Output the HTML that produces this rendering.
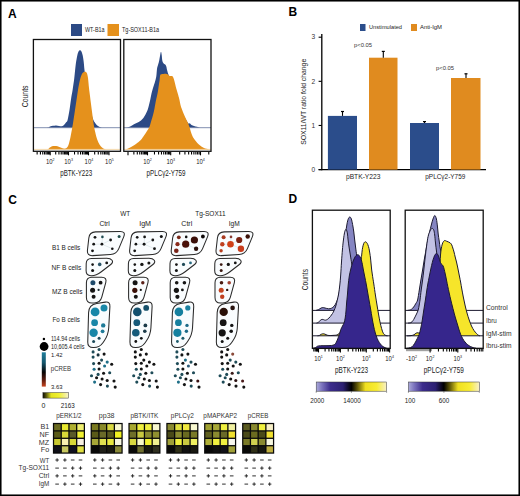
<!DOCTYPE html><html><head><meta charset="utf-8"><title>Figure</title><style>html,body{margin:0;padding:0;background:#fff;}svg{display:block;font-family:"Liberation Sans", sans-serif;}</style></head><body>
<svg width="520" height="496" viewBox="0 0 520 496">
<rect x="0" y="0" width="520" height="496" fill="#fff" stroke="none" stroke-width="1"/>
<text x="8" y="17.5" font-size="12" text-anchor="start" font-weight="bold" fill="#000">A</text>
<rect x="71" y="24" width="11" height="12" fill="#2c4a85" stroke="none" stroke-width="1"/>
<text x="85" y="32.3" font-size="6.3" text-anchor="start" font-weight="normal" fill="#222" textLength="19.5" lengthAdjust="spacingAndGlyphs">WT-B1a</text>
<rect x="107.5" y="24" width="11.5" height="12" fill="#e5911c" stroke="none" stroke-width="1"/>
<text x="122" y="32.3" font-size="6.3" text-anchor="start" font-weight="normal" fill="#222" textLength="37" lengthAdjust="spacingAndGlyphs">Tg-SOX11-B1a</text>
<path d="M33.4,127.7 C35.67,127.7 44.23,127.88 47,127.7 C49.77,127.52 49,126.92 50,126.6 C51,126.28 52,126 53,125.8 C54,125.6 55,125.37 56,125.4 C57,125.43 58,125.87 59,126 C60,126.13 61.17,126.37 62,126.2 C62.83,126.03 63.33,125.62 64,125 C64.67,124.38 65.4,123.33 66,122.5 C66.6,121.67 67.02,122.08 67.6,120 C68.18,117.92 68.9,113.67 69.5,110 C70.1,106.33 70.68,101.33 71.2,98 C71.72,94.67 72.08,93.33 72.6,90 C73.12,86.67 73.77,82.33 74.3,78 C74.83,73.67 75.28,67.83 75.8,64 C76.32,60.17 76.9,57.17 77.4,55 C77.9,52.83 78.37,51.78 78.8,51 C79.23,50.22 79.58,50.27 80,50.3 C80.42,50.33 80.87,50.42 81.3,51.2 C81.73,51.98 82.22,53.37 82.6,55 C82.98,56.63 83.28,58.5 83.6,61 C83.92,63.5 84.1,66.33 84.5,70 C84.9,73.67 85.42,78.5 86,83 C86.58,87.5 87.25,92.5 88,97 C88.75,101.5 89.67,106.33 90.5,110 C91.33,113.67 92.17,116.75 93,119 C93.83,121.25 94.67,122.33 95.5,123.5 C96.33,124.67 97.03,125.33 98,126 C98.97,126.67 100.47,127.22 101.3,127.5 C102.13,127.78 99.8,127.67 103,127.7 C106.2,127.73 117.58,127.7 120.5,127.7 L120.5,127.7 L33.4,127.7 Z" fill="#2c4a85" stroke="none"/>
<line x1="33.4" y1="127.7" x2="120.5" y2="127.7" stroke="#7482a8" stroke-width="0.9"/>
<path d="M33.4,149.4 C35.67,149.4 44.32,149.67 47,149.4 C49.68,149.13 48.67,148.32 49.5,147.8 C50.33,147.28 51.12,146.62 52,146.3 C52.88,145.98 53.88,145.9 54.8,145.9 C55.72,145.9 56.63,146.07 57.5,146.3 C58.37,146.53 59.17,146.97 60,147.3 C60.83,147.63 61.67,148.08 62.5,148.3 C63.33,148.52 64.25,148.72 65,148.6 C65.75,148.48 66.37,148.37 67,147.6 C67.63,146.83 68.22,145.77 68.8,144 C69.38,142.23 69.97,139.5 70.5,137 C71.03,134.5 71.5,131.83 72,129 C72.5,126.17 73,123.17 73.5,120 C74,116.83 74.5,113.33 75,110 C75.5,106.67 76,103.33 76.5,100 C77,96.67 77.47,93.17 78,90 C78.53,86.83 79.12,83.5 79.7,81 C80.28,78.5 80.9,76.45 81.5,75 C82.1,73.55 82.68,72.85 83.3,72.3 C83.92,71.75 84.62,71.58 85.2,71.7 C85.78,71.82 86.33,71.95 86.8,73 C87.27,74.05 87.63,75.5 88,78 C88.37,80.5 88.67,85 89,88 C89.33,91 89.67,93.33 90,96 C90.33,98.67 90.62,101 91,104 C91.38,107 91.83,110.5 92.3,114 C92.77,117.5 93.32,122 93.8,125 C94.28,128 94.63,129.58 95.2,132 C95.77,134.42 96.48,137.42 97.2,139.5 C97.92,141.58 98.7,143.17 99.5,144.5 C100.3,145.83 101.17,146.75 102,147.5 C102.83,148.25 103.83,148.68 104.5,149 C105.17,149.32 103.33,149.33 106,149.4 C108.67,149.47 118.08,149.4 120.5,149.4 L120.5,149.4 L33.4,149.4 Z" fill="#e5911c" stroke="none"/>
<line x1="33.4" y1="149.4" x2="120.5" y2="149.4" stroke="#f1cf98" stroke-width="0.8"/>
<path d="M123.8,127.7 C124.17,127.7 125.13,127.82 126,127.7 C126.87,127.58 127.93,127.42 129,127 C130.07,126.58 131.32,125.77 132.4,125.2 C133.48,124.63 134.45,124.13 135.5,123.6 C136.55,123.07 137.78,122.52 138.7,122 C139.62,121.48 140.22,121.17 141,120.5 C141.78,119.83 142.65,119 143.4,118 C144.15,117 144.8,115.83 145.5,114.5 C146.2,113.17 147.02,111.58 147.6,110 C148.18,108.42 148.57,106.67 149,105 C149.43,103.33 149.78,101.92 150.2,100 C150.62,98.08 151.03,95.5 151.5,93.5 C151.97,91.5 152.45,89.83 153,88 C153.55,86.17 154.27,84.33 154.8,82.5 C155.33,80.67 155.87,78.92 156.2,77 C156.53,75.08 156.62,72.62 156.8,71 C156.98,69.38 157.05,68.47 157.3,67.3 C157.55,66.13 157.98,65.13 158.3,64 C158.62,62.87 158.88,62 159.2,60.5 C159.52,59 159.9,56.45 160.2,55 C160.5,53.55 160.75,51.8 161,51.8 C161.25,51.8 161.48,53.55 161.7,55 C161.92,56.45 162,59.12 162.3,60.5 C162.6,61.88 163.02,62.63 163.5,63.3 C163.98,63.97 164.73,63.97 165.2,64.5 C165.67,65.03 165.97,65.5 166.3,66.5 C166.63,67.5 166.85,69.17 167.2,70.5 C167.55,71.83 167.85,72.92 168.4,74.5 C168.95,76.08 169.57,77.08 170.5,80 C171.43,82.92 172.75,88 174,92 C175.25,96 176.67,100.5 178,104 C179.33,107.5 180.75,110.5 182,113 C183.25,115.5 184.42,117.23 185.5,119 C186.58,120.77 187.8,122.88 188.5,123.6 C189.2,124.32 189.2,123.07 189.7,123.3 C190.2,123.53 190.78,124.55 191.5,125 C192.22,125.45 193.08,125.7 194,126 C194.92,126.3 196.08,126.55 197,126.8 C197.92,127.05 198.92,127.35 199.5,127.5 C200.08,127.65 198.58,127.67 200.5,127.7 C202.42,127.73 209.25,127.7 211,127.7 L211,127.7 L123.8,127.7 Z" fill="#2c4a85" stroke="none"/>
<line x1="123.8" y1="127.7" x2="211" y2="127.7" stroke="#7482a8" stroke-width="0.9"/>
<path d="M123.8,149.4 C124.17,149.4 125.1,149.63 126,149.4 C126.9,149.17 128.2,148.47 129.2,148 C130.2,147.53 131.12,147.1 132,146.6 C132.88,146.1 133.58,145.63 134.5,145 C135.42,144.37 136.45,143.63 137.5,142.8 C138.55,141.97 139.65,141.3 140.8,140 C141.95,138.7 143.37,136.5 144.4,135 C145.43,133.5 146.2,132.25 147,131 C147.8,129.75 148.62,128.75 149.2,127.5 C149.78,126.25 150.12,124.75 150.5,123.5 C150.88,122.25 151.08,121.42 151.5,120 C151.92,118.58 152.5,116.93 153,115 C153.5,113.07 154,110.85 154.5,108.4 C155,105.95 155.55,102.53 156,100.3 C156.45,98.07 156.85,96.68 157.2,95 C157.55,93.32 157.8,92.03 158.1,90.2 C158.4,88.37 158.75,85.67 159,84 C159.25,82.33 159.42,81.62 159.6,80.2 C159.78,78.78 159.87,76.5 160.1,75.5 C160.33,74.5 160.43,74.47 161,74.2 C161.57,73.93 162.67,73.97 163.5,73.9 C164.33,73.83 165.33,73.73 166,73.8 C166.67,73.87 167,74.02 167.5,74.3 C168,74.58 168.55,75.2 169,75.5 C169.45,75.8 169.78,76.02 170.2,76.1 C170.62,76.18 171.08,75.92 171.5,76 C171.92,76.08 172.25,75.9 172.7,76.6 C173.15,77.3 173.62,78.27 174.2,80.2 C174.78,82.13 175.53,85.73 176.2,88.2 C176.87,90.67 177.65,93.03 178.2,95 C178.75,96.97 179.12,98.33 179.5,100 C179.88,101.67 180.05,103.33 180.5,105 C180.95,106.67 181.43,108 182.2,110 C182.97,112 184.13,114.83 185.1,117 C186.07,119.17 187.23,121.22 188,123 C188.77,124.78 189.03,125.7 189.7,127.7 C190.37,129.7 191.13,132.95 192,135 C192.87,137.05 193.65,138.33 194.9,140 C196.15,141.67 197.98,143.67 199.5,145 C201.02,146.33 202.47,147.28 204,148 C205.53,148.72 207.53,149.07 208.7,149.3 C209.87,149.53 210.62,149.38 211,149.4 L211,149.4 L123.8,149.4 Z" fill="#e5911c" stroke="none"/>
<line x1="123.8" y1="149.4" x2="211" y2="149.4" stroke="#f1cf98" stroke-width="0.8"/>
<rect x="33.4" y="39.5" width="87.1" height="111.8" fill="none" stroke="#111" stroke-width="1.3"/>
<rect x="123.8" y="39.5" width="87.2" height="111.8" fill="none" stroke="#111" stroke-width="1.3"/>
<line x1="37.13" y1="151.9" x2="37.13" y2="154.5" stroke="#000" stroke-width="1.1"/>
<line x1="40.42" y1="151.9" x2="40.42" y2="154.5" stroke="#000" stroke-width="1.1"/>
<line x1="42.76" y1="151.9" x2="42.76" y2="154.5" stroke="#000" stroke-width="1.1"/>
<line x1="44.57" y1="151.9" x2="44.57" y2="154.5" stroke="#000" stroke-width="1.1"/>
<line x1="46.05" y1="151.9" x2="46.05" y2="154.5" stroke="#000" stroke-width="1.1"/>
<line x1="47.3" y1="151.9" x2="47.3" y2="154.5" stroke="#000" stroke-width="1.1"/>
<line x1="48.39" y1="151.9" x2="48.39" y2="154.5" stroke="#000" stroke-width="1.1"/>
<line x1="49.34" y1="151.9" x2="49.34" y2="154.5" stroke="#000" stroke-width="1.1"/>
<line x1="50.2" y1="151.9" x2="50.2" y2="155.3" stroke="#000" stroke-width="1.1"/>
<line x1="55.71" y1="151.9" x2="55.71" y2="154.5" stroke="#000" stroke-width="1.1"/>
<line x1="58.93" y1="151.9" x2="58.93" y2="154.5" stroke="#000" stroke-width="1.1"/>
<line x1="61.22" y1="151.9" x2="61.22" y2="154.5" stroke="#000" stroke-width="1.1"/>
<line x1="62.99" y1="151.9" x2="62.99" y2="154.5" stroke="#000" stroke-width="1.1"/>
<line x1="64.44" y1="151.9" x2="64.44" y2="154.5" stroke="#000" stroke-width="1.1"/>
<line x1="65.67" y1="151.9" x2="65.67" y2="154.5" stroke="#000" stroke-width="1.1"/>
<line x1="66.73" y1="151.9" x2="66.73" y2="154.5" stroke="#000" stroke-width="1.1"/>
<line x1="67.66" y1="151.9" x2="67.66" y2="154.5" stroke="#000" stroke-width="1.1"/>
<line x1="68.5" y1="151.9" x2="68.5" y2="155.3" stroke="#000" stroke-width="1.1"/>
<line x1="74.52" y1="151.9" x2="74.52" y2="154.5" stroke="#000" stroke-width="1.1"/>
<line x1="78.04" y1="151.9" x2="78.04" y2="154.5" stroke="#000" stroke-width="1.1"/>
<line x1="80.54" y1="151.9" x2="80.54" y2="154.5" stroke="#000" stroke-width="1.1"/>
<line x1="82.48" y1="151.9" x2="82.48" y2="154.5" stroke="#000" stroke-width="1.1"/>
<line x1="84.06" y1="151.9" x2="84.06" y2="154.5" stroke="#000" stroke-width="1.1"/>
<line x1="85.4" y1="151.9" x2="85.4" y2="154.5" stroke="#000" stroke-width="1.1"/>
<line x1="86.56" y1="151.9" x2="86.56" y2="154.5" stroke="#000" stroke-width="1.1"/>
<line x1="87.58" y1="151.9" x2="87.58" y2="154.5" stroke="#000" stroke-width="1.1"/>
<line x1="88.5" y1="151.9" x2="88.5" y2="155.3" stroke="#000" stroke-width="1.1"/>
<line x1="94.67" y1="151.9" x2="94.67" y2="154.5" stroke="#000" stroke-width="1.1"/>
<line x1="98.28" y1="151.9" x2="98.28" y2="154.5" stroke="#000" stroke-width="1.1"/>
<line x1="100.84" y1="151.9" x2="100.84" y2="154.5" stroke="#000" stroke-width="1.1"/>
<line x1="102.83" y1="151.9" x2="102.83" y2="154.5" stroke="#000" stroke-width="1.1"/>
<line x1="104.45" y1="151.9" x2="104.45" y2="154.5" stroke="#000" stroke-width="1.1"/>
<line x1="105.82" y1="151.9" x2="105.82" y2="154.5" stroke="#000" stroke-width="1.1"/>
<line x1="107.01" y1="151.9" x2="107.01" y2="154.5" stroke="#000" stroke-width="1.1"/>
<line x1="108.06" y1="151.9" x2="108.06" y2="154.5" stroke="#000" stroke-width="1.1"/>
<line x1="109" y1="151.9" x2="109" y2="155.3" stroke="#111" stroke-width="1.1"/>
<line x1="128" y1="151.9" x2="128" y2="155.3" stroke="#000" stroke-width="1.1"/>
<line x1="133.87" y1="151.9" x2="133.87" y2="154.5" stroke="#000" stroke-width="1.1"/>
<line x1="137.3" y1="151.9" x2="137.3" y2="154.5" stroke="#000" stroke-width="1.1"/>
<line x1="139.74" y1="151.9" x2="139.74" y2="154.5" stroke="#000" stroke-width="1.1"/>
<line x1="141.63" y1="151.9" x2="141.63" y2="154.5" stroke="#000" stroke-width="1.1"/>
<line x1="143.17" y1="151.9" x2="143.17" y2="154.5" stroke="#000" stroke-width="1.1"/>
<line x1="144.48" y1="151.9" x2="144.48" y2="154.5" stroke="#000" stroke-width="1.1"/>
<line x1="145.61" y1="151.9" x2="145.61" y2="154.5" stroke="#000" stroke-width="1.1"/>
<line x1="146.61" y1="151.9" x2="146.61" y2="154.5" stroke="#000" stroke-width="1.1"/>
<line x1="147.5" y1="151.9" x2="147.5" y2="155.3" stroke="#000" stroke-width="1.1"/>
<line x1="154.48" y1="151.9" x2="154.48" y2="154.5" stroke="#000" stroke-width="1.1"/>
<line x1="158.57" y1="151.9" x2="158.57" y2="154.5" stroke="#000" stroke-width="1.1"/>
<line x1="161.47" y1="151.9" x2="161.47" y2="154.5" stroke="#000" stroke-width="1.1"/>
<line x1="163.72" y1="151.9" x2="163.72" y2="154.5" stroke="#000" stroke-width="1.1"/>
<line x1="165.55" y1="151.9" x2="165.55" y2="154.5" stroke="#000" stroke-width="1.1"/>
<line x1="167.11" y1="151.9" x2="167.11" y2="154.5" stroke="#000" stroke-width="1.1"/>
<line x1="168.45" y1="151.9" x2="168.45" y2="154.5" stroke="#000" stroke-width="1.1"/>
<line x1="169.64" y1="151.9" x2="169.64" y2="154.5" stroke="#000" stroke-width="1.1"/>
<line x1="170.7" y1="151.9" x2="170.7" y2="155.3" stroke="#000" stroke-width="1.1"/>
<line x1="179.67" y1="151.9" x2="179.67" y2="154.5" stroke="#000" stroke-width="1.1"/>
<line x1="184.92" y1="151.9" x2="184.92" y2="154.5" stroke="#000" stroke-width="1.1"/>
<line x1="188.64" y1="151.9" x2="188.64" y2="154.5" stroke="#000" stroke-width="1.1"/>
<line x1="191.53" y1="151.9" x2="191.53" y2="154.5" stroke="#000" stroke-width="1.1"/>
<line x1="193.89" y1="151.9" x2="193.89" y2="154.5" stroke="#000" stroke-width="1.1"/>
<line x1="195.88" y1="151.9" x2="195.88" y2="154.5" stroke="#000" stroke-width="1.1"/>
<line x1="197.61" y1="151.9" x2="197.61" y2="154.5" stroke="#000" stroke-width="1.1"/>
<line x1="199.14" y1="151.9" x2="199.14" y2="154.5" stroke="#000" stroke-width="1.1"/>
<line x1="200.5" y1="151.9" x2="200.5" y2="155.3" stroke="#000" stroke-width="1.1"/>
<line x1="208.78" y1="151.9" x2="208.78" y2="154.5" stroke="#000" stroke-width="1.1"/>
<text x="50.2" y="163.8" font-size="7.2" text-anchor="middle" fill="#222" textLength="8.6" lengthAdjust="spacingAndGlyphs">10<tspan font-size="4.32" dy="-3">2</tspan></text>
<text x="68.6" y="163.8" font-size="7.2" text-anchor="middle" fill="#222" textLength="8.6" lengthAdjust="spacingAndGlyphs">10<tspan font-size="4.32" dy="-3">3</tspan></text>
<text x="88.9" y="163.8" font-size="7.2" text-anchor="middle" fill="#222" textLength="8.6" lengthAdjust="spacingAndGlyphs">10<tspan font-size="4.32" dy="-3">4</tspan></text>
<text x="109.4" y="163.8" font-size="7.2" text-anchor="middle" fill="#222" textLength="8.6" lengthAdjust="spacingAndGlyphs">10<tspan font-size="4.32" dy="-3">5</tspan></text>
<text x="147.5" y="163.8" font-size="7.2" text-anchor="middle" fill="#222" textLength="8.6" lengthAdjust="spacingAndGlyphs">10<tspan font-size="4.32" dy="-3">2</tspan></text>
<text x="170.7" y="163.8" font-size="7.2" text-anchor="middle" fill="#222" textLength="8.6" lengthAdjust="spacingAndGlyphs">10<tspan font-size="4.32" dy="-3">3</tspan></text>
<text x="200.5" y="163.8" font-size="7.2" text-anchor="middle" fill="#222" textLength="8.6" lengthAdjust="spacingAndGlyphs">10<tspan font-size="4.32" dy="-3">4</tspan></text>
<text x="76.2" y="176.4" font-size="8.2" text-anchor="middle" font-weight="normal" fill="#222" textLength="32" lengthAdjust="spacingAndGlyphs">pBTK-Y223</text>
<text x="166" y="176.4" font-size="8.2" text-anchor="middle" font-weight="normal" fill="#222" textLength="39" lengthAdjust="spacingAndGlyphs">pPLC&#947;2-Y759</text>
<text x="27.8" y="96.4" font-size="8.4" text-anchor="middle" font-weight="normal" fill="#222" textLength="21.8" lengthAdjust="spacingAndGlyphs" transform="rotate(-90 27.8 96.4)">Counts</text>
<text x="288.4" y="15.9" font-size="12" text-anchor="start" font-weight="bold" fill="#000">B</text>
<rect x="360" y="24" width="5.5" height="7" fill="#2b4d8b" stroke="none" stroke-width="1"/>
<text x="369" y="29" font-size="5.6" text-anchor="start" font-weight="normal" fill="#222" textLength="33" lengthAdjust="spacingAndGlyphs">Unstimulated</text>
<rect x="411" y="24" width="6" height="7" fill="#e08b1f" stroke="none" stroke-width="1"/>
<text x="420" y="29" font-size="5.6" text-anchor="start" font-weight="normal" fill="#222" textLength="22" lengthAdjust="spacingAndGlyphs">Anti-IgM</text>
<line x1="321.8" y1="33.9" x2="321.8" y2="170.2" stroke="#000" stroke-width="1.3"/>
<line x1="318.6" y1="169.6" x2="486" y2="169.6" stroke="#000" stroke-width="1.3"/>
<line x1="318.6" y1="169.6" x2="321.8" y2="169.6" stroke="#000" stroke-width="1.1"/>
<text x="315.2" y="171.8" font-size="6.6" text-anchor="end" font-weight="normal" fill="#333">0</text>
<line x1="318.6" y1="125.47" x2="321.8" y2="125.47" stroke="#000" stroke-width="1.1"/>
<text x="315.2" y="127.67" font-size="6.6" text-anchor="end" font-weight="normal" fill="#333">1</text>
<line x1="318.6" y1="81.33" x2="321.8" y2="81.33" stroke="#000" stroke-width="1.1"/>
<text x="315.2" y="83.53" font-size="6.6" text-anchor="end" font-weight="normal" fill="#333">2</text>
<line x1="318.6" y1="37.2" x2="321.8" y2="37.2" stroke="#000" stroke-width="1.1"/>
<text x="315.2" y="39.4" font-size="6.6" text-anchor="end" font-weight="normal" fill="#333">3</text>
<text x="305.6" y="101.8" font-size="7.8" text-anchor="middle" font-weight="normal" fill="#222" textLength="86" lengthAdjust="spacingAndGlyphs" transform="rotate(-90 305.6 101.8)">SOX11/WT ratio fold change</text>
<rect x="327.9" y="115.9" width="29.1" height="53.7" fill="#2b4d8b" stroke="none" stroke-width="1"/>
<rect x="369" y="57.7" width="28.5" height="111.9" fill="#e08b1f" stroke="none" stroke-width="1"/>
<rect x="410" y="123" width="29" height="46.6" fill="#2b4d8b" stroke="none" stroke-width="1"/>
<rect x="451" y="78" width="29.5" height="91.6" fill="#e08b1f" stroke="none" stroke-width="1"/>
<line x1="342.5" y1="115.9" x2="342.5" y2="111.5" stroke="#000" stroke-width="1.1"/>
<line x1="341" y1="111.5" x2="344" y2="111.5" stroke="#000" stroke-width="1.2"/>
<line x1="383.3" y1="57.7" x2="383.3" y2="51.4" stroke="#000" stroke-width="1.1"/>
<line x1="381.8" y1="51.4" x2="384.8" y2="51.4" stroke="#000" stroke-width="1.2"/>
<line x1="424.5" y1="123" x2="424.5" y2="121.6" stroke="#000" stroke-width="1.1"/>
<line x1="423" y1="121.6" x2="426" y2="121.6" stroke="#000" stroke-width="1.2"/>
<line x1="466" y1="78" x2="466" y2="73.8" stroke="#000" stroke-width="1.1"/>
<line x1="464.5" y1="73.8" x2="467.5" y2="73.8" stroke="#000" stroke-width="1.2"/>
<text x="354" y="47.1" font-size="5.6" text-anchor="start" font-weight="normal" fill="#333" textLength="18" lengthAdjust="spacingAndGlyphs">p&lt;0.05</text>
<text x="436" y="69.6" font-size="5.6" text-anchor="start" font-weight="normal" fill="#333" textLength="18" lengthAdjust="spacingAndGlyphs">p&lt;0.05</text>
<text x="363.2" y="178.8" font-size="7.6" text-anchor="middle" font-weight="normal" fill="#222" textLength="34.5" lengthAdjust="spacingAndGlyphs">pBTK-Y223</text>
<text x="445.3" y="178.8" font-size="7.6" text-anchor="middle" font-weight="normal" fill="#222" textLength="40" lengthAdjust="spacingAndGlyphs">pPLC&#947;2-Y759</text>
<text x="8.2" y="203.8" font-size="12" text-anchor="start" font-weight="bold" fill="#000">C</text>
<text x="125.2" y="215.6" font-size="6.8" text-anchor="middle" font-weight="normal" fill="#222" textLength="10" lengthAdjust="spacingAndGlyphs">WT</text>
<text x="210.4" y="215.6" font-size="6.8" text-anchor="middle" font-weight="normal" fill="#222" textLength="30.3" lengthAdjust="spacingAndGlyphs">Tg-SOX11</text>
<text x="104.6" y="226.4" font-size="6.8" text-anchor="middle" font-weight="normal" fill="#222" textLength="10.4" lengthAdjust="spacingAndGlyphs">Ctrl</text>
<text x="145.1" y="226.4" font-size="6.8" text-anchor="middle" font-weight="normal" fill="#222" textLength="11.8" lengthAdjust="spacingAndGlyphs">IgM</text>
<text x="186.8" y="226.4" font-size="6.8" text-anchor="middle" font-weight="normal" fill="#222" textLength="10.9" lengthAdjust="spacingAndGlyphs">Ctrl</text>
<text x="234.2" y="226.4" font-size="6.8" text-anchor="middle" font-weight="normal" fill="#222" textLength="11" lengthAdjust="spacingAndGlyphs">IgM</text>
<text x="51.9" y="249.6" font-size="7" text-anchor="start" font-weight="normal" fill="#222" textLength="28.4" lengthAdjust="spacingAndGlyphs">B1 B cells</text>
<text x="51.5" y="270.4" font-size="7" text-anchor="start" font-weight="normal" fill="#222" textLength="29.8" lengthAdjust="spacingAndGlyphs">NF B cells</text>
<text x="52" y="293.7" font-size="7" text-anchor="start" font-weight="normal" fill="#222" textLength="30.5" lengthAdjust="spacingAndGlyphs">MZ B cells</text>
<text x="52.5" y="322" font-size="7" text-anchor="start" font-weight="normal" fill="#222" textLength="27.5" lengthAdjust="spacingAndGlyphs">Fo B cells</text>
<path d="M88.83,237.96 Q89.5,232 95.5,231.88 L120,231.42 Q126,231.3 123.7,236.84 L118.8,248.66 Q116.5,254.2 110.51,254.56 L92.79,255.64 Q86.8,256 87.47,250.04 Z" fill="#f9fcfe" stroke="#2a2a2a" stroke-width="1.05"/>
<path d="M86.21,263.6 Q86.3,258.6 91.3,258.5 L106.5,258.18 Q110.5,258.1 112.05,260.2 L112.05,260.2 Q113.6,262.3 110.43,264.74 L101.35,271.73 Q95.8,276 90.9,275.7 L90.9,275.7 Q86,275.4 86.09,270.4 Z" fill="#f9fcfe" stroke="#2a2a2a" stroke-width="1.05"/>
<path d="M86.4,282.8 Q86.4,277.3 91.9,277.3 L101.7,277.3 Q107.2,277.3 105.75,282.61 L101.78,297.21 Q100.2,303 94.2,303 L91.9,303 Q86.4,303 86.4,297.5 Z" fill="#f9fcfe" stroke="#2a2a2a" stroke-width="1.05"/>
<path d="M88.58,312.6 Q88.8,304.6 96.71,303.42 L105.25,302.14 Q110.2,301.4 109.92,306.39 L108.7,328.01 Q108.3,335 104.29,340.74 L102.94,342.68 Q99.5,347.6 93.55,347.5 L93.1,347.49 Q87.6,347.4 87.75,341.9 Z" fill="#f9fcfe" stroke="#2a2a2a" stroke-width="1.05"/>
<path d="M93.7,244.2 L101.9,244.2 L112.3,248.7 M102.4,236.9 L101.9,244.2 L110.6,240" stroke="#c8d8dc" stroke-width="0.5" fill="none"/>
<circle cx="95" cy="237.3" r="1.4" fill="#141414"/>
<circle cx="102.4" cy="236.9" r="1.3" fill="#1e4a50"/>
<circle cx="110.6" cy="240" r="1.4" fill="#141414"/>
<circle cx="119.1" cy="236.5" r="1.5" fill="#1e4a48"/>
<circle cx="93.7" cy="244.2" r="1.4" fill="#141414"/>
<circle cx="101.9" cy="244.2" r="1.4" fill="#141414"/>
<circle cx="112.3" cy="248.7" r="1.3" fill="#141414"/>
<circle cx="92.5" cy="250.8" r="1.4" fill="#141414"/>
<circle cx="92.6" cy="264.6" r="1.3" fill="#141414"/>
<circle cx="99.7" cy="264.4" r="1.8" fill="#2a5468"/>
<circle cx="106.7" cy="262.9" r="1.4" fill="#141414"/>
<circle cx="92.6" cy="270.4" r="1.5" fill="#141414"/>
<circle cx="92.9" cy="282.7" r="2.5" fill="#1d4a6b"/>
<circle cx="100.6" cy="282.7" r="1.9" fill="#141414"/>
<circle cx="92.6" cy="290.3" r="2.5" fill="#141414"/>
<circle cx="98.6" cy="289.9" r="1.1" fill="#1a2a30"/>
<circle cx="93.6" cy="296.8" r="2" fill="#141414"/>
<circle cx="95.1" cy="311.9" r="4.4" fill="#1786a8"/>
<circle cx="104" cy="307.9" r="3.5" fill="#1a88a8"/>
<circle cx="94.6" cy="322.7" r="3.4" fill="#1786a8"/>
<circle cx="103.2" cy="325.4" r="2.2" fill="#1d7a98"/>
<circle cx="93.6" cy="332.8" r="4.2" fill="#1786a8"/>
<circle cx="102.6" cy="331.3" r="1.9" fill="#1d7a98"/>
<circle cx="99.1" cy="338.3" r="1.5" fill="#1b4a5a"/>
<circle cx="93.6" cy="341.5" r="1.5" fill="#1b4a5a"/>
<circle cx="99.1" cy="349.5" r="1.55" fill="#1f4c58"/>
<circle cx="93.1" cy="351.9" r="1.55" fill="#1f4c58"/>
<circle cx="98.1" cy="354.9" r="1.55" fill="#16303a"/>
<circle cx="104.1" cy="354.1" r="1.55" fill="#141414"/>
<circle cx="93.1" cy="357.1" r="1.55" fill="#1f4c58"/>
<circle cx="101.6" cy="360.1" r="1.55" fill="#1f4c58"/>
<circle cx="107.2" cy="362.1" r="1.55" fill="#1f6f88"/>
<circle cx="93.6" cy="363.6" r="1.55" fill="#1f4c58"/>
<circle cx="99.1" cy="363.3" r="1.55" fill="#141414"/>
<circle cx="104.6" cy="366" r="1.55" fill="#1f6f88"/>
<circle cx="111.7" cy="364.2" r="1.55" fill="#141414"/>
<circle cx="94.1" cy="369.2" r="1.55" fill="#1f6f88"/>
<circle cx="99.1" cy="369" r="1.55" fill="#141414"/>
<circle cx="103.6" cy="373.2" r="1.55" fill="#141414"/>
<circle cx="109.7" cy="372.7" r="1.55" fill="#1f4c58"/>
<circle cx="98.1" cy="374.4" r="1.55" fill="#1f4c58"/>
<circle cx="91.5" cy="375.7" r="1.55" fill="#1f4c58"/>
<circle cx="96.6" cy="377.8" r="1.55" fill="#141414"/>
<circle cx="102.1" cy="379" r="1.55" fill="#141414"/>
<circle cx="107.2" cy="380.5" r="1.55" fill="#141414"/>
<circle cx="114" cy="381" r="1.55" fill="#141414"/>
<circle cx="94.6" cy="382.1" r="1.55" fill="#1f6f88"/>
<circle cx="100.6" cy="384.6" r="1.55" fill="#141414"/>
<circle cx="107.4" cy="386.1" r="1.55" fill="#1f4c58"/>
<circle cx="115.2" cy="387.1" r="1.55" fill="#141414"/>
<path d="M131.03,237.96 Q131.7,232 137.7,231.88 L162.2,231.42 Q168.2,231.3 165.9,236.84 L161,248.66 Q158.7,254.2 152.71,254.56 L134.99,255.64 Q129,256 129.67,250.04 Z" fill="#f9fcfe" stroke="#2a2a2a" stroke-width="1.05"/>
<path d="M128.41,263.6 Q128.5,258.6 133.5,258.5 L148.7,258.18 Q152.7,258.1 154.25,260.2 L154.25,260.2 Q155.8,262.3 152.63,264.74 L143.55,271.73 Q138,276 133.1,275.7 L133.1,275.7 Q128.2,275.4 128.29,270.4 Z" fill="#f9fcfe" stroke="#2a2a2a" stroke-width="1.05"/>
<path d="M128.6,282.8 Q128.6,277.3 134.1,277.3 L143.9,277.3 Q149.4,277.3 147.95,282.61 L143.98,297.21 Q142.4,303 136.4,303 L134.1,303 Q128.6,303 128.6,297.5 Z" fill="#f9fcfe" stroke="#2a2a2a" stroke-width="1.05"/>
<path d="M130.78,312.6 Q131,304.6 138.91,303.42 L147.45,302.14 Q152.4,301.4 152.12,306.39 L150.9,328.01 Q150.5,335 146.49,340.74 L145.14,342.68 Q141.7,347.6 135.75,347.5 L135.3,347.49 Q129.8,347.4 129.95,341.9 Z" fill="#f9fcfe" stroke="#2a2a2a" stroke-width="1.05"/>
<path d="M135.9,244.2 L144.1,244.2 L154.5,248.7 M144.6,236.9 L144.1,244.2 L152.8,240" stroke="#c8d8dc" stroke-width="0.5" fill="none"/>
<circle cx="137.2" cy="237.3" r="1.35" fill="#141414"/>
<circle cx="144.6" cy="236.9" r="1.35" fill="#141414"/>
<circle cx="152.8" cy="240" r="1.4" fill="#141414"/>
<circle cx="161.3" cy="236.5" r="1.5" fill="#141414"/>
<circle cx="135.9" cy="244.2" r="1.35" fill="#141414"/>
<circle cx="144.1" cy="244.2" r="1.45" fill="#141414"/>
<circle cx="154.5" cy="248.7" r="1.4" fill="#141414"/>
<circle cx="134.7" cy="250.8" r="1.4" fill="#141414"/>
<circle cx="134.8" cy="264.6" r="1.3" fill="#141414"/>
<circle cx="141.9" cy="264.4" r="1.7" fill="#141414"/>
<circle cx="148.9" cy="262.9" r="1.5" fill="#141414"/>
<circle cx="134.8" cy="270.4" r="1.5" fill="#141414"/>
<circle cx="135.1" cy="282.7" r="2.5" fill="#141414"/>
<circle cx="142.8" cy="282.7" r="1.7" fill="#5a2018"/>
<circle cx="134.8" cy="290.3" r="2.6" fill="#3a1008"/>
<circle cx="140.8" cy="289.9" r="1.1" fill="#141414"/>
<circle cx="135.8" cy="296.8" r="2" fill="#141414"/>
<circle cx="137.3" cy="311.9" r="4.3" fill="#14506e"/>
<circle cx="146.2" cy="307.9" r="2.9" fill="#16506a"/>
<circle cx="136.8" cy="322.7" r="3.4" fill="#165a7a"/>
<circle cx="145.4" cy="325.4" r="1.9" fill="#1b3a48"/>
<circle cx="135.8" cy="332.8" r="3.8" fill="#155a7a"/>
<circle cx="144.8" cy="331.3" r="1.8" fill="#1b3a48"/>
<circle cx="141.3" cy="338.3" r="1.4" fill="#141414"/>
<circle cx="135.8" cy="341.5" r="1.4" fill="#141414"/>
<circle cx="141.3" cy="349.5" r="1.55" fill="#141414"/>
<circle cx="135.3" cy="351.9" r="1.55" fill="#141414"/>
<circle cx="140.3" cy="354.9" r="1.55" fill="#141414"/>
<circle cx="146.3" cy="354.1" r="1.55" fill="#141414"/>
<circle cx="135.3" cy="357.1" r="1.55" fill="#141414"/>
<circle cx="143.8" cy="360.1" r="1.55" fill="#141414"/>
<circle cx="149.4" cy="362.1" r="1.55" fill="#141414"/>
<circle cx="135.8" cy="363.6" r="1.55" fill="#141414"/>
<circle cx="141.3" cy="363.3" r="1.55" fill="#141414"/>
<circle cx="146.8" cy="366" r="1.55" fill="#141414"/>
<circle cx="153.9" cy="364.2" r="1.55" fill="#141414"/>
<circle cx="136.3" cy="369.2" r="1.55" fill="#1f4c58"/>
<circle cx="141.3" cy="369" r="1.55" fill="#141414"/>
<circle cx="145.8" cy="373.2" r="1.55" fill="#141414"/>
<circle cx="151.9" cy="372.7" r="1.55" fill="#1f4c58"/>
<circle cx="140.3" cy="374.4" r="1.55" fill="#1f4c58"/>
<circle cx="133.7" cy="375.7" r="1.55" fill="#1f4c58"/>
<circle cx="138.8" cy="377.8" r="1.55" fill="#1f4c58"/>
<circle cx="144.3" cy="379" r="1.55" fill="#141414"/>
<circle cx="149.4" cy="380.5" r="1.55" fill="#141414"/>
<circle cx="156.2" cy="381" r="1.55" fill="#141414"/>
<circle cx="136.8" cy="382.1" r="1.55" fill="#1f4c58"/>
<circle cx="142.8" cy="384.6" r="1.55" fill="#141414"/>
<circle cx="149.6" cy="386.1" r="1.55" fill="#1f4c58"/>
<circle cx="157.4" cy="387.1" r="1.55" fill="#141414"/>
<path d="M172.63,237.96 Q173.3,232 179.3,231.88 L203.8,231.42 Q209.8,231.3 207.5,236.84 L202.6,248.66 Q200.3,254.2 194.31,254.56 L176.59,255.64 Q170.6,256 171.27,250.04 Z" fill="#f9fcfe" stroke="#2a2a2a" stroke-width="1.05"/>
<path d="M170.01,263.6 Q170.1,258.6 175.1,258.5 L190.3,258.18 Q194.3,258.1 195.85,260.2 L195.85,260.2 Q197.4,262.3 194.23,264.74 L185.15,271.73 Q179.6,276 174.7,275.7 L174.7,275.7 Q169.8,275.4 169.89,270.4 Z" fill="#f9fcfe" stroke="#2a2a2a" stroke-width="1.05"/>
<path d="M170.2,282.8 Q170.2,277.3 175.7,277.3 L185.5,277.3 Q191,277.3 189.55,282.61 L185.58,297.21 Q184,303 178,303 L175.7,303 Q170.2,303 170.2,297.5 Z" fill="#f9fcfe" stroke="#2a2a2a" stroke-width="1.05"/>
<path d="M172.38,312.6 Q172.6,304.6 180.51,303.42 L189.05,302.14 Q194,301.4 193.72,306.39 L192.5,328.01 Q192.1,335 188.09,340.74 L186.74,342.68 Q183.3,347.6 177.35,347.5 L176.9,347.49 Q171.4,347.4 171.55,341.9 Z" fill="#f9fcfe" stroke="#2a2a2a" stroke-width="1.05"/>
<path d="M177.5,244.2 L185.7,244.2 L196.1,248.7 M186.2,236.9 L185.7,244.2 L194.4,240" stroke="#c8d8dc" stroke-width="0.5" fill="none"/>
<circle cx="178.8" cy="237.3" r="1.9" fill="#7a2a1a"/>
<circle cx="186.2" cy="236.9" r="1.3" fill="#111"/>
<circle cx="194.4" cy="240" r="3.6" fill="#3a0e08"/>
<circle cx="202.9" cy="236.5" r="1.9" fill="#0e0808"/>
<circle cx="177.5" cy="244.2" r="2.1" fill="#8a2a1a"/>
<circle cx="185.7" cy="244.2" r="3.6" fill="#4a1008"/>
<circle cx="196.1" cy="248.7" r="2.2" fill="#2a0e0a"/>
<circle cx="176.3" cy="250.8" r="2.3" fill="#7a2418"/>
<circle cx="176.4" cy="264.6" r="1.4" fill="#141414"/>
<circle cx="183.5" cy="264.4" r="1.6" fill="#1e4a58"/>
<circle cx="190.5" cy="262.9" r="1.4" fill="#2a6a80"/>
<circle cx="176.4" cy="270.4" r="1.5" fill="#141414"/>
<circle cx="176.7" cy="282.7" r="1.8" fill="#141414"/>
<circle cx="184.4" cy="282.7" r="1.8" fill="#141414"/>
<circle cx="176.4" cy="290.3" r="2.6" fill="#141414"/>
<circle cx="182.4" cy="289.9" r="1.4" fill="#141414"/>
<circle cx="177.4" cy="296.8" r="2.1" fill="#141414"/>
<circle cx="178.9" cy="311.9" r="4.3" fill="#16809f"/>
<circle cx="187.8" cy="307.9" r="2.6" fill="#1a80a0"/>
<circle cx="178.4" cy="322.7" r="3.4" fill="#17809f"/>
<circle cx="187" cy="325.4" r="1.7" fill="#1d6a88"/>
<circle cx="177.4" cy="332.8" r="4.1" fill="#15809f"/>
<circle cx="186.4" cy="331.3" r="1.7" fill="#1d6a88"/>
<circle cx="182.9" cy="338.3" r="1.5" fill="#1d5a6a"/>
<circle cx="177.4" cy="341.5" r="1.4" fill="#1d5a6a"/>
<circle cx="182.9" cy="349.5" r="1.55" fill="#1f4c58"/>
<circle cx="176.9" cy="351.9" r="1.55" fill="#1f4c58"/>
<circle cx="181.9" cy="354.9" r="1.55" fill="#141414"/>
<circle cx="187.9" cy="354.1" r="1.55" fill="#141414"/>
<circle cx="176.9" cy="357.1" r="1.55" fill="#1f4c58"/>
<circle cx="185.4" cy="360.1" r="1.55" fill="#1f6f88"/>
<circle cx="191" cy="362.1" r="1.55" fill="#1f4c58"/>
<circle cx="177.4" cy="363.6" r="1.55" fill="#1f4c58"/>
<circle cx="182.9" cy="363.3" r="1.55" fill="#141414"/>
<circle cx="188.4" cy="366" r="1.55" fill="#2a5a78"/>
<circle cx="195.5" cy="364.2" r="1.55" fill="#141414"/>
<circle cx="177.9" cy="369.2" r="1.55" fill="#1f4c58"/>
<circle cx="182.9" cy="369" r="1.55" fill="#141414"/>
<circle cx="187.4" cy="373.2" r="1.55" fill="#141414"/>
<circle cx="193.5" cy="372.7" r="1.55" fill="#1f4c58"/>
<circle cx="181.9" cy="374.4" r="1.55" fill="#1f4c58"/>
<circle cx="175.3" cy="375.7" r="1.55" fill="#1f4c58"/>
<circle cx="180.4" cy="377.8" r="1.55" fill="#1f4c58"/>
<circle cx="185.9" cy="379" r="1.55" fill="#141414"/>
<circle cx="191" cy="380.5" r="1.55" fill="#141414"/>
<circle cx="197.8" cy="381" r="1.55" fill="#3a1010"/>
<circle cx="178.4" cy="382.1" r="1.55" fill="#1f6f88"/>
<circle cx="184.4" cy="384.6" r="1.55" fill="#141414"/>
<circle cx="191.2" cy="386.1" r="1.55" fill="#1f4c58"/>
<circle cx="199" cy="387.1" r="1.55" fill="#141414"/>
<path d="M217.43,237.96 Q218.1,232 224.1,231.88 L248.6,231.42 Q254.6,231.3 252.3,236.84 L247.4,248.66 Q245.1,254.2 239.11,254.56 L221.39,255.64 Q215.4,256 216.07,250.04 Z" fill="#f9fcfe" stroke="#2a2a2a" stroke-width="1.05"/>
<path d="M214.81,263.6 Q214.9,258.6 219.9,258.5 L235.1,258.18 Q239.1,258.1 240.65,260.2 L240.65,260.2 Q242.2,262.3 239.03,264.74 L229.95,271.73 Q224.4,276 219.5,275.7 L219.5,275.7 Q214.6,275.4 214.69,270.4 Z" fill="#f9fcfe" stroke="#2a2a2a" stroke-width="1.05"/>
<path d="M215,282.8 Q215,277.3 220.5,277.3 L230.3,277.3 Q235.8,277.3 234.35,282.61 L230.38,297.21 Q228.8,303 222.8,303 L220.5,303 Q215,303 215,297.5 Z" fill="#f9fcfe" stroke="#2a2a2a" stroke-width="1.05"/>
<path d="M217.18,312.6 Q217.4,304.6 225.31,303.42 L233.85,302.14 Q238.8,301.4 238.52,306.39 L237.3,328.01 Q236.9,335 232.89,340.74 L231.54,342.68 Q228.1,347.6 222.15,347.5 L221.7,347.49 Q216.2,347.4 216.35,341.9 Z" fill="#f9fcfe" stroke="#2a2a2a" stroke-width="1.05"/>
<path d="M222.3,244.2 L230.5,244.2 L240.9,248.7 M231,236.9 L230.5,244.2 L239.2,240" stroke="#c8d8dc" stroke-width="0.5" fill="none"/>
<circle cx="223.6" cy="237.3" r="2" fill="#a83a20"/>
<circle cx="231" cy="236.9" r="1.3" fill="#8a3a30"/>
<circle cx="239.2" cy="240" r="3.1" fill="#7a2010"/>
<circle cx="247.7" cy="236.5" r="2.2" fill="#3a1008"/>
<circle cx="222.3" cy="244.2" r="2.2" fill="#c04020"/>
<circle cx="230.5" cy="244.2" r="3.3" fill="#d04018"/>
<circle cx="240.9" cy="248.7" r="3.2" fill="#c83c1c"/>
<circle cx="221.1" cy="250.8" r="1.7" fill="#b84020"/>
<circle cx="221.2" cy="264.6" r="1.4" fill="#3a1a12"/>
<circle cx="228.3" cy="264.4" r="1.6" fill="#141414"/>
<circle cx="235.3" cy="262.9" r="1.4" fill="#141414"/>
<circle cx="221.2" cy="270.4" r="1.5" fill="#3a1a12"/>
<circle cx="221.5" cy="282.7" r="1.8" fill="#4a1a10"/>
<circle cx="229.2" cy="282.7" r="1.8" fill="#a04030"/>
<circle cx="221.2" cy="290.3" r="2.5" fill="#c44420"/>
<circle cx="227.2" cy="289.9" r="1.2" fill="#2a1008"/>
<circle cx="222.2" cy="296.8" r="2.2" fill="#c04020"/>
<circle cx="223.7" cy="311.9" r="4.2" fill="#2a1008"/>
<circle cx="232.6" cy="307.9" r="2.3" fill="#2a1410"/>
<circle cx="223.2" cy="322.7" r="3.4" fill="#141414"/>
<circle cx="231.8" cy="325.4" r="1.7" fill="#141414"/>
<circle cx="222.2" cy="332.8" r="3.6" fill="#141414"/>
<circle cx="231.2" cy="331.3" r="1.8" fill="#141414"/>
<circle cx="227.7" cy="338.3" r="1.5" fill="#141414"/>
<circle cx="222.2" cy="341.5" r="1.5" fill="#141414"/>
<circle cx="227.7" cy="349.5" r="1.55" fill="#141414"/>
<circle cx="221.7" cy="351.9" r="1.55" fill="#141414"/>
<circle cx="226.7" cy="354.9" r="1.55" fill="#141414"/>
<circle cx="232.7" cy="354.1" r="1.55" fill="#8a4a3a"/>
<circle cx="221.7" cy="357.1" r="1.55" fill="#141414"/>
<circle cx="230.2" cy="360.1" r="1.55" fill="#1f4c58"/>
<circle cx="235.8" cy="362.1" r="1.55" fill="#1f4c58"/>
<circle cx="222.2" cy="363.6" r="1.55" fill="#141414"/>
<circle cx="227.7" cy="363.3" r="1.55" fill="#141414"/>
<circle cx="233.2" cy="366" r="1.55" fill="#141414"/>
<circle cx="240.3" cy="364.2" r="1.55" fill="#141414"/>
<circle cx="222.7" cy="369.2" r="1.55" fill="#1f4c58"/>
<circle cx="227.7" cy="369" r="1.55" fill="#141414"/>
<circle cx="232.2" cy="373.2" r="1.55" fill="#3a1a18"/>
<circle cx="238.3" cy="372.7" r="1.55" fill="#1f4c58"/>
<circle cx="226.7" cy="374.4" r="1.55" fill="#1f4c58"/>
<circle cx="220.1" cy="375.7" r="1.55" fill="#1f4c58"/>
<circle cx="225.2" cy="377.8" r="1.55" fill="#1f4c58"/>
<circle cx="230.7" cy="379" r="1.55" fill="#141414"/>
<circle cx="235.8" cy="380.5" r="1.55" fill="#2a1010"/>
<circle cx="242.6" cy="381" r="1.55" fill="#4a1a1a"/>
<circle cx="223.2" cy="382.1" r="1.55" fill="#1f4c58"/>
<circle cx="229.2" cy="384.6" r="1.55" fill="#141414"/>
<circle cx="236" cy="386.1" r="1.55" fill="#141414"/>
<circle cx="243.8" cy="387.1" r="1.55" fill="#141414"/>
<circle cx="43.9" cy="339" r="1.2" fill="#000"/>
<text x="50.9" y="340.6" font-size="6.4" text-anchor="start" font-weight="normal" fill="#222" textLength="29" lengthAdjust="spacingAndGlyphs">114.94 cells</text>
<circle cx="44.1" cy="346.5" r="4.4" fill="#000"/>
<text x="50.9" y="349.3" font-size="6.4" text-anchor="start" font-weight="normal" fill="#222" textLength="33.5" lengthAdjust="spacingAndGlyphs">10,605.4 cells</text>
<defs><linearGradient id="gC" x1="0" y1="0" x2="0" y2="1"><stop offset="0" stop-color="#1f7f9c"/><stop offset="0.3" stop-color="#15566c"/><stop offset="0.58" stop-color="#050505"/><stop offset="0.8" stop-color="#5a1c10"/><stop offset="1" stop-color="#c8441e"/></linearGradient><linearGradient id="gY" x1="0" y1="0" x2="1" y2="0"><stop offset="0" stop-color="#0a0a00"/><stop offset="0.13" stop-color="#5a5a10"/><stop offset="0.32" stop-color="#e4e420"/><stop offset="0.62" stop-color="#f0f030"/><stop offset="0.85" stop-color="#f4f090"/><stop offset="1" stop-color="#f8f4d0"/></linearGradient></defs>
<rect x="41.8" y="352.3" width="4" height="34.3" fill="url(#gC)" stroke="none" stroke-width="1"/>
<text x="51" y="356.8" font-size="6" text-anchor="start" font-weight="normal" fill="#222" textLength="11.5" lengthAdjust="spacingAndGlyphs">1.42</text>
<text x="50.8" y="371.2" font-size="7.2" text-anchor="start" font-weight="normal" fill="#333" textLength="20.2" lengthAdjust="spacingAndGlyphs">pCREB</text>
<text x="51" y="388.7" font-size="6" text-anchor="start" font-weight="normal" fill="#222" textLength="11.5" lengthAdjust="spacingAndGlyphs">3.63</text>
<rect x="42.9" y="392.6" width="25.8" height="5.5" fill="url(#gY)" stroke="#333" stroke-width="0.5"/>
<text x="43.5" y="408.3" font-size="7" text-anchor="middle" font-weight="normal" fill="#222">0</text>
<text x="60.8" y="408.3" font-size="7" text-anchor="start" font-weight="normal" fill="#222" textLength="14" lengthAdjust="spacingAndGlyphs">2163</text>
<text x="68.95" y="418" font-size="7.4" text-anchor="middle" font-weight="normal" fill="#333" textLength="25.4" lengthAdjust="spacingAndGlyphs">pERK1/2</text>
<rect x="52.9" y="422.9" width="32.1" height="30.8" fill="#0a0a0a" stroke="none" stroke-width="1"/>
<rect x="54.15" y="424.15" width="6.43" height="6.1" fill="#6a6a20" stroke="none" stroke-width="1"/>
<rect x="61.88" y="424.15" width="6.43" height="6.1" fill="#e8e830" stroke="none" stroke-width="1"/>
<rect x="69.6" y="424.15" width="6.43" height="6.1" fill="#b0b030" stroke="none" stroke-width="1"/>
<rect x="77.33" y="424.15" width="6.43" height="6.1" fill="#f0f070" stroke="none" stroke-width="1"/>
<rect x="54.15" y="431.55" width="6.43" height="6.1" fill="#5a5a18" stroke="none" stroke-width="1"/>
<rect x="61.88" y="431.55" width="6.43" height="6.1" fill="#d8d838" stroke="none" stroke-width="1"/>
<rect x="69.6" y="431.55" width="6.43" height="6.1" fill="#5a5a28" stroke="none" stroke-width="1"/>
<rect x="77.33" y="431.55" width="6.43" height="6.1" fill="#f0f030" stroke="none" stroke-width="1"/>
<rect x="54.15" y="438.95" width="6.43" height="6.1" fill="#c8c830" stroke="none" stroke-width="1"/>
<rect x="61.88" y="438.95" width="6.43" height="6.1" fill="#f8f0b0" stroke="none" stroke-width="1"/>
<rect x="69.6" y="438.95" width="6.43" height="6.1" fill="#d8d838" stroke="none" stroke-width="1"/>
<rect x="77.33" y="438.95" width="6.43" height="6.1" fill="#f8f0e0" stroke="none" stroke-width="1"/>
<rect x="54.15" y="446.35" width="6.43" height="6.1" fill="#101018" stroke="none" stroke-width="1"/>
<rect x="61.88" y="446.35" width="6.43" height="6.1" fill="#c8c860" stroke="none" stroke-width="1"/>
<rect x="69.6" y="446.35" width="6.43" height="6.1" fill="#101020" stroke="none" stroke-width="1"/>
<rect x="77.33" y="446.35" width="6.43" height="6.1" fill="#e0e040" stroke="none" stroke-width="1"/>
<line x1="55.4" y1="460" x2="58.8" y2="460" stroke="#222" stroke-width="0.95"/>
<line x1="57.1" y1="458.3" x2="57.1" y2="461.7" stroke="#222" stroke-width="0.95"/>
<line x1="63.2" y1="460" x2="66.6" y2="460" stroke="#222" stroke-width="0.95"/>
<line x1="64.9" y1="458.3" x2="64.9" y2="461.7" stroke="#222" stroke-width="0.95"/>
<line x1="70.9" y1="460" x2="74.5" y2="460" stroke="#222" stroke-width="0.95"/>
<line x1="78.7" y1="460" x2="82.3" y2="460" stroke="#222" stroke-width="0.95"/>
<line x1="55.3" y1="468.1" x2="58.9" y2="468.1" stroke="#222" stroke-width="0.95"/>
<line x1="63.1" y1="468.1" x2="66.7" y2="468.1" stroke="#222" stroke-width="0.95"/>
<line x1="71" y1="468.1" x2="74.4" y2="468.1" stroke="#222" stroke-width="0.95"/>
<line x1="72.7" y1="466.4" x2="72.7" y2="469.8" stroke="#222" stroke-width="0.95"/>
<line x1="78.8" y1="468.1" x2="82.2" y2="468.1" stroke="#222" stroke-width="0.95"/>
<line x1="80.5" y1="466.4" x2="80.5" y2="469.8" stroke="#222" stroke-width="0.95"/>
<line x1="55.4" y1="475.9" x2="58.8" y2="475.9" stroke="#222" stroke-width="0.95"/>
<line x1="57.1" y1="474.2" x2="57.1" y2="477.6" stroke="#222" stroke-width="0.95"/>
<line x1="63.1" y1="475.9" x2="66.7" y2="475.9" stroke="#222" stroke-width="0.95"/>
<line x1="71" y1="475.9" x2="74.4" y2="475.9" stroke="#222" stroke-width="0.95"/>
<line x1="72.7" y1="474.2" x2="72.7" y2="477.6" stroke="#222" stroke-width="0.95"/>
<line x1="78.7" y1="475.9" x2="82.3" y2="475.9" stroke="#222" stroke-width="0.95"/>
<line x1="55.3" y1="484.1" x2="58.9" y2="484.1" stroke="#222" stroke-width="0.95"/>
<line x1="63.2" y1="484.1" x2="66.6" y2="484.1" stroke="#222" stroke-width="0.95"/>
<line x1="64.9" y1="482.4" x2="64.9" y2="485.8" stroke="#222" stroke-width="0.95"/>
<line x1="70.9" y1="484.1" x2="74.5" y2="484.1" stroke="#222" stroke-width="0.95"/>
<line x1="78.8" y1="484.1" x2="82.2" y2="484.1" stroke="#222" stroke-width="0.95"/>
<line x1="80.5" y1="482.4" x2="80.5" y2="485.8" stroke="#222" stroke-width="0.95"/>
<text x="106.65" y="418" font-size="7.4" text-anchor="middle" font-weight="normal" fill="#333" textLength="15.7" lengthAdjust="spacingAndGlyphs">pp38</text>
<rect x="90.6" y="422.9" width="32.1" height="30.8" fill="#0a0a0a" stroke="none" stroke-width="1"/>
<rect x="91.85" y="424.15" width="6.43" height="6.1" fill="#7a7a20" stroke="none" stroke-width="1"/>
<rect x="99.57" y="424.15" width="6.43" height="6.1" fill="#8a8a28" stroke="none" stroke-width="1"/>
<rect x="107.3" y="424.15" width="6.43" height="6.1" fill="#d8d840" stroke="none" stroke-width="1"/>
<rect x="115.02" y="424.15" width="6.43" height="6.1" fill="#f8f8d0" stroke="none" stroke-width="1"/>
<rect x="91.85" y="431.55" width="6.43" height="6.1" fill="#5a5a18" stroke="none" stroke-width="1"/>
<rect x="99.57" y="431.55" width="6.43" height="6.1" fill="#6a6a28" stroke="none" stroke-width="1"/>
<rect x="107.3" y="431.55" width="6.43" height="6.1" fill="#5a5a20" stroke="none" stroke-width="1"/>
<rect x="115.02" y="431.55" width="6.43" height="6.1" fill="#f0f020" stroke="none" stroke-width="1"/>
<rect x="91.85" y="438.95" width="6.43" height="6.1" fill="#a8a838" stroke="none" stroke-width="1"/>
<rect x="99.57" y="438.95" width="6.43" height="6.1" fill="#e0e050" stroke="none" stroke-width="1"/>
<rect x="107.3" y="438.95" width="6.43" height="6.1" fill="#e8e840" stroke="none" stroke-width="1"/>
<rect x="115.02" y="438.95" width="6.43" height="6.1" fill="#f8f8e0" stroke="none" stroke-width="1"/>
<rect x="91.85" y="446.35" width="6.43" height="6.1" fill="#0a0a08" stroke="none" stroke-width="1"/>
<rect x="99.57" y="446.35" width="6.43" height="6.1" fill="#202018" stroke="none" stroke-width="1"/>
<rect x="107.3" y="446.35" width="6.43" height="6.1" fill="#1a1a10" stroke="none" stroke-width="1"/>
<rect x="115.02" y="446.35" width="6.43" height="6.1" fill="#8a8a38" stroke="none" stroke-width="1"/>
<line x1="93.1" y1="460" x2="96.5" y2="460" stroke="#222" stroke-width="0.95"/>
<line x1="94.8" y1="458.3" x2="94.8" y2="461.7" stroke="#222" stroke-width="0.95"/>
<line x1="100.9" y1="460" x2="104.3" y2="460" stroke="#222" stroke-width="0.95"/>
<line x1="102.6" y1="458.3" x2="102.6" y2="461.7" stroke="#222" stroke-width="0.95"/>
<line x1="108.6" y1="460" x2="112.2" y2="460" stroke="#222" stroke-width="0.95"/>
<line x1="116.4" y1="460" x2="120" y2="460" stroke="#222" stroke-width="0.95"/>
<line x1="93" y1="468.1" x2="96.6" y2="468.1" stroke="#222" stroke-width="0.95"/>
<line x1="100.8" y1="468.1" x2="104.4" y2="468.1" stroke="#222" stroke-width="0.95"/>
<line x1="108.7" y1="468.1" x2="112.1" y2="468.1" stroke="#222" stroke-width="0.95"/>
<line x1="110.4" y1="466.4" x2="110.4" y2="469.8" stroke="#222" stroke-width="0.95"/>
<line x1="116.5" y1="468.1" x2="119.9" y2="468.1" stroke="#222" stroke-width="0.95"/>
<line x1="118.2" y1="466.4" x2="118.2" y2="469.8" stroke="#222" stroke-width="0.95"/>
<line x1="93.1" y1="475.9" x2="96.5" y2="475.9" stroke="#222" stroke-width="0.95"/>
<line x1="94.8" y1="474.2" x2="94.8" y2="477.6" stroke="#222" stroke-width="0.95"/>
<line x1="100.8" y1="475.9" x2="104.4" y2="475.9" stroke="#222" stroke-width="0.95"/>
<line x1="108.7" y1="475.9" x2="112.1" y2="475.9" stroke="#222" stroke-width="0.95"/>
<line x1="110.4" y1="474.2" x2="110.4" y2="477.6" stroke="#222" stroke-width="0.95"/>
<line x1="116.4" y1="475.9" x2="120" y2="475.9" stroke="#222" stroke-width="0.95"/>
<line x1="93" y1="484.1" x2="96.6" y2="484.1" stroke="#222" stroke-width="0.95"/>
<line x1="100.9" y1="484.1" x2="104.3" y2="484.1" stroke="#222" stroke-width="0.95"/>
<line x1="102.6" y1="482.4" x2="102.6" y2="485.8" stroke="#222" stroke-width="0.95"/>
<line x1="108.6" y1="484.1" x2="112.2" y2="484.1" stroke="#222" stroke-width="0.95"/>
<line x1="116.5" y1="484.1" x2="119.9" y2="484.1" stroke="#222" stroke-width="0.95"/>
<line x1="118.2" y1="482.4" x2="118.2" y2="485.8" stroke="#222" stroke-width="0.95"/>
<text x="144.45" y="418" font-size="7.4" text-anchor="middle" font-weight="normal" fill="#333" textLength="28" lengthAdjust="spacingAndGlyphs">pBTK/ITK</text>
<rect x="128.4" y="422.9" width="32.1" height="30.8" fill="#0a0a0a" stroke="none" stroke-width="1"/>
<rect x="129.65" y="424.15" width="6.43" height="6.1" fill="#a8a830" stroke="none" stroke-width="1"/>
<rect x="137.38" y="424.15" width="6.43" height="6.1" fill="#f0f040" stroke="none" stroke-width="1"/>
<rect x="145.1" y="424.15" width="6.43" height="6.1" fill="#f0f040" stroke="none" stroke-width="1"/>
<rect x="152.83" y="424.15" width="6.43" height="6.1" fill="#f8f8d0" stroke="none" stroke-width="1"/>
<rect x="129.65" y="431.55" width="6.43" height="6.1" fill="#707028" stroke="none" stroke-width="1"/>
<rect x="137.38" y="431.55" width="6.43" height="6.1" fill="#c8c840" stroke="none" stroke-width="1"/>
<rect x="145.1" y="431.55" width="6.43" height="6.1" fill="#8a8a30" stroke="none" stroke-width="1"/>
<rect x="152.83" y="431.55" width="6.43" height="6.1" fill="#909030" stroke="none" stroke-width="1"/>
<rect x="129.65" y="438.95" width="6.43" height="6.1" fill="#d8d840" stroke="none" stroke-width="1"/>
<rect x="137.38" y="438.95" width="6.43" height="6.1" fill="#f8f8c8" stroke="none" stroke-width="1"/>
<rect x="145.1" y="438.95" width="6.43" height="6.1" fill="#f0f030" stroke="none" stroke-width="1"/>
<rect x="152.83" y="438.95" width="6.43" height="6.1" fill="#f0f090" stroke="none" stroke-width="1"/>
<rect x="129.65" y="446.35" width="6.43" height="6.1" fill="#0a0a08" stroke="none" stroke-width="1"/>
<rect x="137.38" y="446.35" width="6.43" height="6.1" fill="#707030" stroke="none" stroke-width="1"/>
<rect x="145.1" y="446.35" width="6.43" height="6.1" fill="#181810" stroke="none" stroke-width="1"/>
<rect x="152.83" y="446.35" width="6.43" height="6.1" fill="#303020" stroke="none" stroke-width="1"/>
<line x1="130.9" y1="460" x2="134.3" y2="460" stroke="#222" stroke-width="0.95"/>
<line x1="132.6" y1="458.3" x2="132.6" y2="461.7" stroke="#222" stroke-width="0.95"/>
<line x1="138.7" y1="460" x2="142.1" y2="460" stroke="#222" stroke-width="0.95"/>
<line x1="140.4" y1="458.3" x2="140.4" y2="461.7" stroke="#222" stroke-width="0.95"/>
<line x1="146.4" y1="460" x2="150" y2="460" stroke="#222" stroke-width="0.95"/>
<line x1="154.2" y1="460" x2="157.8" y2="460" stroke="#222" stroke-width="0.95"/>
<line x1="130.8" y1="468.1" x2="134.4" y2="468.1" stroke="#222" stroke-width="0.95"/>
<line x1="138.6" y1="468.1" x2="142.2" y2="468.1" stroke="#222" stroke-width="0.95"/>
<line x1="146.5" y1="468.1" x2="149.9" y2="468.1" stroke="#222" stroke-width="0.95"/>
<line x1="148.2" y1="466.4" x2="148.2" y2="469.8" stroke="#222" stroke-width="0.95"/>
<line x1="154.3" y1="468.1" x2="157.7" y2="468.1" stroke="#222" stroke-width="0.95"/>
<line x1="156" y1="466.4" x2="156" y2="469.8" stroke="#222" stroke-width="0.95"/>
<line x1="130.9" y1="475.9" x2="134.3" y2="475.9" stroke="#222" stroke-width="0.95"/>
<line x1="132.6" y1="474.2" x2="132.6" y2="477.6" stroke="#222" stroke-width="0.95"/>
<line x1="138.6" y1="475.9" x2="142.2" y2="475.9" stroke="#222" stroke-width="0.95"/>
<line x1="146.5" y1="475.9" x2="149.9" y2="475.9" stroke="#222" stroke-width="0.95"/>
<line x1="148.2" y1="474.2" x2="148.2" y2="477.6" stroke="#222" stroke-width="0.95"/>
<line x1="154.2" y1="475.9" x2="157.8" y2="475.9" stroke="#222" stroke-width="0.95"/>
<line x1="130.8" y1="484.1" x2="134.4" y2="484.1" stroke="#222" stroke-width="0.95"/>
<line x1="138.7" y1="484.1" x2="142.1" y2="484.1" stroke="#222" stroke-width="0.95"/>
<line x1="140.4" y1="482.4" x2="140.4" y2="485.8" stroke="#222" stroke-width="0.95"/>
<line x1="146.4" y1="484.1" x2="150" y2="484.1" stroke="#222" stroke-width="0.95"/>
<line x1="154.3" y1="484.1" x2="157.7" y2="484.1" stroke="#222" stroke-width="0.95"/>
<line x1="156" y1="482.4" x2="156" y2="485.8" stroke="#222" stroke-width="0.95"/>
<text x="182.35" y="418" font-size="7.4" text-anchor="middle" font-weight="normal" fill="#333" textLength="23" lengthAdjust="spacingAndGlyphs">pPLC&#947;2</text>
<rect x="166.3" y="422.9" width="32.1" height="30.8" fill="#0a0a0a" stroke="none" stroke-width="1"/>
<rect x="167.55" y="424.15" width="6.43" height="6.1" fill="#8a8a30" stroke="none" stroke-width="1"/>
<rect x="175.28" y="424.15" width="6.43" height="6.1" fill="#e0e040" stroke="none" stroke-width="1"/>
<rect x="183" y="424.15" width="6.43" height="6.1" fill="#f0e840" stroke="none" stroke-width="1"/>
<rect x="190.73" y="424.15" width="6.43" height="6.1" fill="#f8f8d0" stroke="none" stroke-width="1"/>
<rect x="167.55" y="431.55" width="6.43" height="6.1" fill="#4a4a18" stroke="none" stroke-width="1"/>
<rect x="175.28" y="431.55" width="6.43" height="6.1" fill="#8a8a30" stroke="none" stroke-width="1"/>
<rect x="183" y="431.55" width="6.43" height="6.1" fill="#6a6a20" stroke="none" stroke-width="1"/>
<rect x="190.73" y="431.55" width="6.43" height="6.1" fill="#7a7a28" stroke="none" stroke-width="1"/>
<rect x="167.55" y="438.95" width="6.43" height="6.1" fill="#a0a038" stroke="none" stroke-width="1"/>
<rect x="175.28" y="438.95" width="6.43" height="6.1" fill="#f0f040" stroke="none" stroke-width="1"/>
<rect x="183" y="438.95" width="6.43" height="6.1" fill="#c8c840" stroke="none" stroke-width="1"/>
<rect x="190.73" y="438.95" width="6.43" height="6.1" fill="#f0f060" stroke="none" stroke-width="1"/>
<rect x="167.55" y="446.35" width="6.43" height="6.1" fill="#0a0a08" stroke="none" stroke-width="1"/>
<rect x="175.28" y="446.35" width="6.43" height="6.1" fill="#303018" stroke="none" stroke-width="1"/>
<rect x="183" y="446.35" width="6.43" height="6.1" fill="#101010" stroke="none" stroke-width="1"/>
<rect x="190.73" y="446.35" width="6.43" height="6.1" fill="#181810" stroke="none" stroke-width="1"/>
<line x1="168.8" y1="460" x2="172.2" y2="460" stroke="#222" stroke-width="0.95"/>
<line x1="170.5" y1="458.3" x2="170.5" y2="461.7" stroke="#222" stroke-width="0.95"/>
<line x1="176.6" y1="460" x2="180" y2="460" stroke="#222" stroke-width="0.95"/>
<line x1="178.3" y1="458.3" x2="178.3" y2="461.7" stroke="#222" stroke-width="0.95"/>
<line x1="184.3" y1="460" x2="187.9" y2="460" stroke="#222" stroke-width="0.95"/>
<line x1="192.1" y1="460" x2="195.7" y2="460" stroke="#222" stroke-width="0.95"/>
<line x1="168.7" y1="468.1" x2="172.3" y2="468.1" stroke="#222" stroke-width="0.95"/>
<line x1="176.5" y1="468.1" x2="180.1" y2="468.1" stroke="#222" stroke-width="0.95"/>
<line x1="184.4" y1="468.1" x2="187.8" y2="468.1" stroke="#222" stroke-width="0.95"/>
<line x1="186.1" y1="466.4" x2="186.1" y2="469.8" stroke="#222" stroke-width="0.95"/>
<line x1="192.2" y1="468.1" x2="195.6" y2="468.1" stroke="#222" stroke-width="0.95"/>
<line x1="193.9" y1="466.4" x2="193.9" y2="469.8" stroke="#222" stroke-width="0.95"/>
<line x1="168.8" y1="475.9" x2="172.2" y2="475.9" stroke="#222" stroke-width="0.95"/>
<line x1="170.5" y1="474.2" x2="170.5" y2="477.6" stroke="#222" stroke-width="0.95"/>
<line x1="176.5" y1="475.9" x2="180.1" y2="475.9" stroke="#222" stroke-width="0.95"/>
<line x1="184.4" y1="475.9" x2="187.8" y2="475.9" stroke="#222" stroke-width="0.95"/>
<line x1="186.1" y1="474.2" x2="186.1" y2="477.6" stroke="#222" stroke-width="0.95"/>
<line x1="192.1" y1="475.9" x2="195.7" y2="475.9" stroke="#222" stroke-width="0.95"/>
<line x1="168.7" y1="484.1" x2="172.3" y2="484.1" stroke="#222" stroke-width="0.95"/>
<line x1="176.6" y1="484.1" x2="180" y2="484.1" stroke="#222" stroke-width="0.95"/>
<line x1="178.3" y1="482.4" x2="178.3" y2="485.8" stroke="#222" stroke-width="0.95"/>
<line x1="184.3" y1="484.1" x2="187.9" y2="484.1" stroke="#222" stroke-width="0.95"/>
<line x1="192.2" y1="484.1" x2="195.6" y2="484.1" stroke="#222" stroke-width="0.95"/>
<line x1="193.9" y1="482.4" x2="193.9" y2="485.8" stroke="#222" stroke-width="0.95"/>
<text x="220.15" y="418" font-size="7.4" text-anchor="middle" font-weight="normal" fill="#333" textLength="33.6" lengthAdjust="spacingAndGlyphs">pMAPKAP2</text>
<rect x="204.1" y="422.9" width="32.1" height="30.8" fill="#0a0a0a" stroke="none" stroke-width="1"/>
<rect x="205.35" y="424.15" width="6.43" height="6.1" fill="#a0a030" stroke="none" stroke-width="1"/>
<rect x="213.07" y="424.15" width="6.43" height="6.1" fill="#a8a838" stroke="none" stroke-width="1"/>
<rect x="220.8" y="424.15" width="6.43" height="6.1" fill="#f0f040" stroke="none" stroke-width="1"/>
<rect x="228.53" y="424.15" width="6.43" height="6.1" fill="#f0f0a0" stroke="none" stroke-width="1"/>
<rect x="205.35" y="431.55" width="6.43" height="6.1" fill="#606020" stroke="none" stroke-width="1"/>
<rect x="213.07" y="431.55" width="6.43" height="6.1" fill="#8a8a30" stroke="none" stroke-width="1"/>
<rect x="220.8" y="431.55" width="6.43" height="6.1" fill="#6a6a28" stroke="none" stroke-width="1"/>
<rect x="228.53" y="431.55" width="6.43" height="6.1" fill="#f0e030" stroke="none" stroke-width="1"/>
<rect x="205.35" y="438.95" width="6.43" height="6.1" fill="#b0b038" stroke="none" stroke-width="1"/>
<rect x="213.07" y="438.95" width="6.43" height="6.1" fill="#f0f040" stroke="none" stroke-width="1"/>
<rect x="220.8" y="438.95" width="6.43" height="6.1" fill="#f0f040" stroke="none" stroke-width="1"/>
<rect x="228.53" y="438.95" width="6.43" height="6.1" fill="#f8f8f0" stroke="none" stroke-width="1"/>
<rect x="205.35" y="446.35" width="6.43" height="6.1" fill="#080808" stroke="none" stroke-width="1"/>
<rect x="213.07" y="446.35" width="6.43" height="6.1" fill="#101010" stroke="none" stroke-width="1"/>
<rect x="220.8" y="446.35" width="6.43" height="6.1" fill="#101018" stroke="none" stroke-width="1"/>
<rect x="228.53" y="446.35" width="6.43" height="6.1" fill="#a0a038" stroke="none" stroke-width="1"/>
<line x1="206.6" y1="460" x2="210" y2="460" stroke="#222" stroke-width="0.95"/>
<line x1="208.3" y1="458.3" x2="208.3" y2="461.7" stroke="#222" stroke-width="0.95"/>
<line x1="214.4" y1="460" x2="217.8" y2="460" stroke="#222" stroke-width="0.95"/>
<line x1="216.1" y1="458.3" x2="216.1" y2="461.7" stroke="#222" stroke-width="0.95"/>
<line x1="222.1" y1="460" x2="225.7" y2="460" stroke="#222" stroke-width="0.95"/>
<line x1="229.9" y1="460" x2="233.5" y2="460" stroke="#222" stroke-width="0.95"/>
<line x1="206.5" y1="468.1" x2="210.1" y2="468.1" stroke="#222" stroke-width="0.95"/>
<line x1="214.3" y1="468.1" x2="217.9" y2="468.1" stroke="#222" stroke-width="0.95"/>
<line x1="222.2" y1="468.1" x2="225.6" y2="468.1" stroke="#222" stroke-width="0.95"/>
<line x1="223.9" y1="466.4" x2="223.9" y2="469.8" stroke="#222" stroke-width="0.95"/>
<line x1="230" y1="468.1" x2="233.4" y2="468.1" stroke="#222" stroke-width="0.95"/>
<line x1="231.7" y1="466.4" x2="231.7" y2="469.8" stroke="#222" stroke-width="0.95"/>
<line x1="206.6" y1="475.9" x2="210" y2="475.9" stroke="#222" stroke-width="0.95"/>
<line x1="208.3" y1="474.2" x2="208.3" y2="477.6" stroke="#222" stroke-width="0.95"/>
<line x1="214.3" y1="475.9" x2="217.9" y2="475.9" stroke="#222" stroke-width="0.95"/>
<line x1="222.2" y1="475.9" x2="225.6" y2="475.9" stroke="#222" stroke-width="0.95"/>
<line x1="223.9" y1="474.2" x2="223.9" y2="477.6" stroke="#222" stroke-width="0.95"/>
<line x1="229.9" y1="475.9" x2="233.5" y2="475.9" stroke="#222" stroke-width="0.95"/>
<line x1="206.5" y1="484.1" x2="210.1" y2="484.1" stroke="#222" stroke-width="0.95"/>
<line x1="214.4" y1="484.1" x2="217.8" y2="484.1" stroke="#222" stroke-width="0.95"/>
<line x1="216.1" y1="482.4" x2="216.1" y2="485.8" stroke="#222" stroke-width="0.95"/>
<line x1="222.1" y1="484.1" x2="225.7" y2="484.1" stroke="#222" stroke-width="0.95"/>
<line x1="230" y1="484.1" x2="233.4" y2="484.1" stroke="#222" stroke-width="0.95"/>
<line x1="231.7" y1="482.4" x2="231.7" y2="485.8" stroke="#222" stroke-width="0.95"/>
<text x="258.15" y="418" font-size="7.4" text-anchor="middle" font-weight="normal" fill="#333" textLength="20.6" lengthAdjust="spacingAndGlyphs">pCREB</text>
<rect x="242.1" y="422.9" width="32.1" height="30.8" fill="#0a0a0a" stroke="none" stroke-width="1"/>
<rect x="243.35" y="424.15" width="6.43" height="6.1" fill="#5a5a20" stroke="none" stroke-width="1"/>
<rect x="251.07" y="424.15" width="6.43" height="6.1" fill="#8a8a30" stroke="none" stroke-width="1"/>
<rect x="258.8" y="424.15" width="6.43" height="6.1" fill="#f0f040" stroke="none" stroke-width="1"/>
<rect x="266.52" y="424.15" width="6.43" height="6.1" fill="#f8f0c8" stroke="none" stroke-width="1"/>
<rect x="243.35" y="431.55" width="6.43" height="6.1" fill="#4a4a18" stroke="none" stroke-width="1"/>
<rect x="251.07" y="431.55" width="6.43" height="6.1" fill="#6a6a20" stroke="none" stroke-width="1"/>
<rect x="258.8" y="431.55" width="6.43" height="6.1" fill="#4a4a18" stroke="none" stroke-width="1"/>
<rect x="266.52" y="431.55" width="6.43" height="6.1" fill="#f0e030" stroke="none" stroke-width="1"/>
<rect x="243.35" y="438.95" width="6.43" height="6.1" fill="#7a7a28" stroke="none" stroke-width="1"/>
<rect x="251.07" y="438.95" width="6.43" height="6.1" fill="#d0d050" stroke="none" stroke-width="1"/>
<rect x="258.8" y="438.95" width="6.43" height="6.1" fill="#8a8a30" stroke="none" stroke-width="1"/>
<rect x="266.52" y="438.95" width="6.43" height="6.1" fill="#f8f8e0" stroke="none" stroke-width="1"/>
<rect x="243.35" y="446.35" width="6.43" height="6.1" fill="#0a0a08" stroke="none" stroke-width="1"/>
<rect x="251.07" y="446.35" width="6.43" height="6.1" fill="#303018" stroke="none" stroke-width="1"/>
<rect x="258.8" y="446.35" width="6.43" height="6.1" fill="#181810" stroke="none" stroke-width="1"/>
<rect x="266.52" y="446.35" width="6.43" height="6.1" fill="#c0b040" stroke="none" stroke-width="1"/>
<line x1="244.6" y1="460" x2="248" y2="460" stroke="#222" stroke-width="0.95"/>
<line x1="246.3" y1="458.3" x2="246.3" y2="461.7" stroke="#222" stroke-width="0.95"/>
<line x1="252.4" y1="460" x2="255.8" y2="460" stroke="#222" stroke-width="0.95"/>
<line x1="254.1" y1="458.3" x2="254.1" y2="461.7" stroke="#222" stroke-width="0.95"/>
<line x1="260.1" y1="460" x2="263.7" y2="460" stroke="#222" stroke-width="0.95"/>
<line x1="267.9" y1="460" x2="271.5" y2="460" stroke="#222" stroke-width="0.95"/>
<line x1="244.5" y1="468.1" x2="248.1" y2="468.1" stroke="#222" stroke-width="0.95"/>
<line x1="252.3" y1="468.1" x2="255.9" y2="468.1" stroke="#222" stroke-width="0.95"/>
<line x1="260.2" y1="468.1" x2="263.6" y2="468.1" stroke="#222" stroke-width="0.95"/>
<line x1="261.9" y1="466.4" x2="261.9" y2="469.8" stroke="#222" stroke-width="0.95"/>
<line x1="268" y1="468.1" x2="271.4" y2="468.1" stroke="#222" stroke-width="0.95"/>
<line x1="269.7" y1="466.4" x2="269.7" y2="469.8" stroke="#222" stroke-width="0.95"/>
<line x1="244.6" y1="475.9" x2="248" y2="475.9" stroke="#222" stroke-width="0.95"/>
<line x1="246.3" y1="474.2" x2="246.3" y2="477.6" stroke="#222" stroke-width="0.95"/>
<line x1="252.3" y1="475.9" x2="255.9" y2="475.9" stroke="#222" stroke-width="0.95"/>
<line x1="260.2" y1="475.9" x2="263.6" y2="475.9" stroke="#222" stroke-width="0.95"/>
<line x1="261.9" y1="474.2" x2="261.9" y2="477.6" stroke="#222" stroke-width="0.95"/>
<line x1="267.9" y1="475.9" x2="271.5" y2="475.9" stroke="#222" stroke-width="0.95"/>
<line x1="244.5" y1="484.1" x2="248.1" y2="484.1" stroke="#222" stroke-width="0.95"/>
<line x1="252.4" y1="484.1" x2="255.8" y2="484.1" stroke="#222" stroke-width="0.95"/>
<line x1="254.1" y1="482.4" x2="254.1" y2="485.8" stroke="#222" stroke-width="0.95"/>
<line x1="260.1" y1="484.1" x2="263.7" y2="484.1" stroke="#222" stroke-width="0.95"/>
<line x1="268" y1="484.1" x2="271.4" y2="484.1" stroke="#222" stroke-width="0.95"/>
<line x1="269.7" y1="482.4" x2="269.7" y2="485.8" stroke="#222" stroke-width="0.95"/>
<text x="49.2" y="429.4" font-size="7.2" text-anchor="end" font-weight="normal" fill="#333">B1</text>
<text x="49.2" y="437.1" font-size="7.2" text-anchor="end" font-weight="normal" fill="#333">NF</text>
<text x="49.2" y="444.8" font-size="7.2" text-anchor="end" font-weight="normal" fill="#333">MZ</text>
<text x="49.2" y="451.7" font-size="7.2" text-anchor="end" font-weight="normal" fill="#333">Fo</text>
<text x="49.2" y="462.6" font-size="7.2" text-anchor="end" font-weight="normal" fill="#333" textLength="9.5" lengthAdjust="spacingAndGlyphs">WT</text>
<text x="49.2" y="470.4" font-size="7.2" text-anchor="end" font-weight="normal" fill="#333" textLength="30.7" lengthAdjust="spacingAndGlyphs">Tg-SOX11</text>
<text x="49.2" y="478.2" font-size="7.2" text-anchor="end" font-weight="normal" fill="#333" textLength="10.5" lengthAdjust="spacingAndGlyphs">Ctrl</text>
<text x="49.2" y="486.3" font-size="7.2" text-anchor="end" font-weight="normal" fill="#333" textLength="10.5" lengthAdjust="spacingAndGlyphs">IgM</text>
<text x="288.6" y="203.2" font-size="12" text-anchor="start" font-weight="bold" fill="#000">D</text>
<path d="M316,310.4 C316.42,310.27 317.67,309.98 318.5,309.6 C319.33,309.22 320.28,308.43 321,308.1 C321.72,307.77 322.13,307.62 322.8,307.6 C323.47,307.58 324.03,307.8 325,308 C325.97,308.2 327.52,308.77 328.6,308.8 C329.68,308.83 330.58,308.63 331.5,308.2 C332.42,307.77 333.3,307.15 334.1,306.2 C334.9,305.25 335.55,304.2 336.3,302.5 C337.05,300.8 337.88,299.08 338.6,296 C339.32,292.92 339.98,288.67 340.6,284 C341.22,279.33 341.73,273.67 342.3,268 C342.87,262.33 343.45,255.67 344,250 C344.55,244.33 345.1,238.33 345.6,234 C346.1,229.67 346.55,226.53 347,224 C347.45,221.47 347.83,219.97 348.3,218.8 C348.77,217.63 349.3,217 349.8,217 C350.3,217 350.83,217.55 351.3,218.8 C351.77,220.05 352.18,222.3 352.6,224.5 C353.02,226.7 353.45,229.42 353.8,232 C354.15,234.58 354.38,237.33 354.7,240 C355.02,242.67 355.35,245.33 355.7,248 C356.05,250.67 356.25,252.67 356.8,256 C357.35,259.33 358.13,263.67 359,268 C359.87,272.33 360.92,277.5 362,282 C363.08,286.5 364.33,291.33 365.5,295 C366.67,298.67 367.83,301.7 369,304 C370.17,306.3 371.5,307.73 372.5,308.8 C373.5,309.87 374.58,310.13 375,310.4 L375,310.4 L316,310.4 Z" fill="#8585c2" stroke="none"/>
<path d="M316,310.4 C316.42,310.27 317.67,309.98 318.5,309.6 C319.33,309.22 320.28,308.43 321,308.1 C321.72,307.77 322.13,307.62 322.8,307.6 C323.47,307.58 324.03,307.8 325,308 C325.97,308.2 327.52,308.77 328.6,308.8 C329.68,308.83 330.58,308.63 331.5,308.2 C332.42,307.77 333.3,307.15 334.1,306.2 C334.9,305.25 335.55,304.2 336.3,302.5 C337.05,300.8 337.88,299.08 338.6,296 C339.32,292.92 339.98,288.67 340.6,284 C341.22,279.33 341.73,273.67 342.3,268 C342.87,262.33 343.45,255.67 344,250 C344.55,244.33 345.1,238.33 345.6,234 C346.1,229.67 346.55,226.53 347,224 C347.45,221.47 347.83,219.97 348.3,218.8 C348.77,217.63 349.3,217 349.8,217 C350.3,217 350.83,217.55 351.3,218.8 C351.77,220.05 352.18,222.3 352.6,224.5 C353.02,226.7 353.45,229.42 353.8,232 C354.15,234.58 354.38,237.33 354.7,240 C355.02,242.67 355.35,245.33 355.7,248 C356.05,250.67 356.25,252.67 356.8,256 C357.35,259.33 358.13,263.67 359,268 C359.87,272.33 360.92,277.5 362,282 C363.08,286.5 364.33,291.33 365.5,295 C366.67,298.67 367.83,301.7 369,304 C370.17,306.3 371.5,307.73 372.5,308.8 C373.5,309.87 374.58,310.13 375,310.4" fill="none" stroke="#1c1a30" stroke-width="1" stroke-linejoin="round"/>
<line x1="312.4" y1="310.4" x2="390.2" y2="310.4" stroke="#1c1a30" stroke-width="1"/>
<path d="M316.5,323.1 C316.83,322.97 317.87,322.77 318.5,322.3 C319.13,321.83 319.72,320.78 320.3,320.3 C320.88,319.82 321.43,319.5 322,319.4 C322.57,319.3 323.15,319.57 323.7,319.7 C324.25,319.83 324.67,320.27 325.3,320.2 C325.93,320.13 326.67,319.9 327.5,319.3 C328.33,318.7 329.47,317.57 330.3,316.6 C331.13,315.63 331.87,314.52 332.5,313.5 C333.13,312.48 333.55,311.75 334.1,310.5 C334.65,309.25 335.28,307.67 335.8,306 C336.32,304.33 336.73,302.5 337.2,300.5 C337.67,298.5 338.17,296.58 338.6,294 C339.03,291.42 339.45,288.17 339.8,285 C340.15,281.83 340.42,278.83 340.7,275 C340.98,271.17 341.22,266.17 341.5,262 C341.78,257.83 342.1,253.5 342.4,250 C342.7,246.5 342.98,243.67 343.3,241 C343.62,238.33 344,235.73 344.3,234 C344.6,232.27 344.83,231.37 345.1,230.6 C345.37,229.83 345.62,229.37 345.9,229.4 C346.18,229.43 346.53,230.03 346.8,230.8 C347.07,231.57 347.28,232.47 347.5,234 C347.72,235.53 347.82,237.67 348.1,240 C348.38,242.33 348.8,245.33 349.2,248 C349.6,250.67 350.07,253.33 350.5,256 C350.93,258.67 351.22,260.67 351.8,264 C352.38,267.33 353.13,271.67 354,276 C354.87,280.33 355.92,285.5 357,290 C358.08,294.5 359.33,299.17 360.5,303 C361.67,306.83 362.83,310.17 364,313 C365.17,315.83 366.42,318.32 367.5,320 C368.58,321.68 370,322.58 370.5,323.1 L370.5,323.1 L316.5,323.1 Z" fill="#c2c2e4" stroke="none"/>
<path d="M316.5,323.1 C316.83,322.97 317.87,322.77 318.5,322.3 C319.13,321.83 319.72,320.78 320.3,320.3 C320.88,319.82 321.43,319.5 322,319.4 C322.57,319.3 323.15,319.57 323.7,319.7 C324.25,319.83 324.67,320.27 325.3,320.2 C325.93,320.13 326.67,319.9 327.5,319.3 C328.33,318.7 329.47,317.57 330.3,316.6 C331.13,315.63 331.87,314.52 332.5,313.5 C333.13,312.48 333.55,311.75 334.1,310.5 C334.65,309.25 335.28,307.67 335.8,306 C336.32,304.33 336.73,302.5 337.2,300.5 C337.67,298.5 338.17,296.58 338.6,294 C339.03,291.42 339.45,288.17 339.8,285 C340.15,281.83 340.42,278.83 340.7,275 C340.98,271.17 341.22,266.17 341.5,262 C341.78,257.83 342.1,253.5 342.4,250 C342.7,246.5 342.98,243.67 343.3,241 C343.62,238.33 344,235.73 344.3,234 C344.6,232.27 344.83,231.37 345.1,230.6 C345.37,229.83 345.62,229.37 345.9,229.4 C346.18,229.43 346.53,230.03 346.8,230.8 C347.07,231.57 347.28,232.47 347.5,234 C347.72,235.53 347.82,237.67 348.1,240 C348.38,242.33 348.8,245.33 349.2,248 C349.6,250.67 350.07,253.33 350.5,256 C350.93,258.67 351.22,260.67 351.8,264 C352.38,267.33 353.13,271.67 354,276 C354.87,280.33 355.92,285.5 357,290 C358.08,294.5 359.33,299.17 360.5,303 C361.67,306.83 362.83,310.17 364,313 C365.17,315.83 366.42,318.32 367.5,320 C368.58,321.68 370,322.58 370.5,323.1" fill="none" stroke="#1c1a30" stroke-width="1" stroke-linejoin="round"/>
<line x1="312.4" y1="323.1" x2="390.2" y2="323.1" stroke="#1c1a30" stroke-width="1"/>
<path d="M317.5,335.8 C317.83,335.73 318.88,335.65 319.5,335.4 C320.12,335.15 320.6,334.57 321.2,334.3 C321.8,334.03 322.47,333.82 323.1,333.8 C323.73,333.78 324.35,333.98 325,334.2 C325.65,334.42 326.33,334.88 327,335.1 C327.67,335.32 328,335.45 329,335.5 C330,335.55 331.5,335.57 333,335.4 C334.5,335.23 336.58,335.4 338,334.5 C339.42,333.6 340.42,331.75 341.5,330 C342.58,328.25 343.42,326.5 344.5,324 C345.58,321.5 346.75,319 348,315 C349.25,311 350.67,305 352,300 C353.33,295 354.75,290 356,285 C357.25,280 358.67,274 359.5,270 C360.33,266 360.63,263.5 361,261 C361.37,258.5 361.48,256.92 361.7,255 C361.92,253.08 362.05,251.13 362.3,249.5 C362.55,247.87 362.88,246.35 363.2,245.2 C363.52,244.05 363.83,243.17 364.2,242.6 C364.57,242.03 365,241.82 365.4,241.8 C365.8,241.78 366.2,242.03 366.6,242.5 C367,242.97 367.4,243.6 367.8,244.6 C368.2,245.6 368.67,247.1 369,248.5 C369.33,249.9 369.55,251.42 369.8,253 C370.05,254.58 370.28,256.17 370.5,258 C370.72,259.83 370.9,262 371.1,264 C371.3,266 371.45,267.95 371.7,270 C371.95,272.05 372.25,273.97 372.6,276.3 C372.95,278.63 373.33,280.88 373.8,284 C374.27,287.12 374.87,291.5 375.4,295 C375.93,298.5 376.48,301.83 377,305 C377.52,308.17 378,311.17 378.5,314 C379,316.83 379.48,319.58 380,322 C380.52,324.42 381.05,326.62 381.6,328.5 C382.15,330.38 382.65,332.17 383.3,333.3 C383.95,334.43 384.8,334.88 385.5,335.3 C386.2,335.72 387.17,335.72 387.5,335.8 L387.5,335.8 L317.5,335.8 Z" fill="#f6e52a" stroke="none"/>
<path d="M317.5,335.8 C317.83,335.73 318.88,335.65 319.5,335.4 C320.12,335.15 320.6,334.57 321.2,334.3 C321.8,334.03 322.47,333.82 323.1,333.8 C323.73,333.78 324.35,333.98 325,334.2 C325.65,334.42 326.33,334.88 327,335.1 C327.67,335.32 328,335.45 329,335.5 C330,335.55 331.5,335.57 333,335.4 C334.5,335.23 336.58,335.4 338,334.5 C339.42,333.6 340.42,331.75 341.5,330 C342.58,328.25 343.42,326.5 344.5,324 C345.58,321.5 346.75,319 348,315 C349.25,311 350.67,305 352,300 C353.33,295 354.75,290 356,285 C357.25,280 358.67,274 359.5,270 C360.33,266 360.63,263.5 361,261 C361.37,258.5 361.48,256.92 361.7,255 C361.92,253.08 362.05,251.13 362.3,249.5 C362.55,247.87 362.88,246.35 363.2,245.2 C363.52,244.05 363.83,243.17 364.2,242.6 C364.57,242.03 365,241.82 365.4,241.8 C365.8,241.78 366.2,242.03 366.6,242.5 C367,242.97 367.4,243.6 367.8,244.6 C368.2,245.6 368.67,247.1 369,248.5 C369.33,249.9 369.55,251.42 369.8,253 C370.05,254.58 370.28,256.17 370.5,258 C370.72,259.83 370.9,262 371.1,264 C371.3,266 371.45,267.95 371.7,270 C371.95,272.05 372.25,273.97 372.6,276.3 C372.95,278.63 373.33,280.88 373.8,284 C374.27,287.12 374.87,291.5 375.4,295 C375.93,298.5 376.48,301.83 377,305 C377.52,308.17 378,311.17 378.5,314 C379,316.83 379.48,319.58 380,322 C380.52,324.42 381.05,326.62 381.6,328.5 C382.15,330.38 382.65,332.17 383.3,333.3 C383.95,334.43 384.8,334.88 385.5,335.3 C386.2,335.72 387.17,335.72 387.5,335.8" fill="none" stroke="#1c1a30" stroke-width="1" stroke-linejoin="round"/>
<line x1="312.4" y1="335.8" x2="390.2" y2="335.8" stroke="#1c1a30" stroke-width="1"/>
<path d="M313,348.4 C313.42,348.27 314.78,347.95 315.5,347.6 C316.22,347.25 316.72,346.58 317.3,346.3 C317.88,346.02 318.22,346 319,345.9 C319.78,345.8 320.83,345.73 322,345.7 C323.17,345.67 324.67,345.72 326,345.7 C327.33,345.68 328.83,345.68 330,345.6 C331.17,345.52 332.1,345.5 333,345.2 C333.9,344.9 334.68,344.67 335.4,343.8 C336.12,342.93 336.73,341.27 337.3,340 C337.87,338.73 338.35,337.48 338.8,336.2 C339.25,334.92 339.67,333.42 340,332.3 C340.33,331.18 340.38,330.55 340.8,329.5 C341.22,328.45 341.97,327.08 342.5,326 C343.03,324.92 343.55,324.33 344,323 C344.45,321.67 344.87,320 345.2,318 C345.53,316 345.77,313.5 346,311 C346.23,308.5 346.37,305.67 346.6,303 C346.83,300.33 347.13,298 347.4,295 C347.67,292 347.88,288.17 348.2,285 C348.52,281.83 348.87,278.67 349.3,276 C349.73,273.33 350.25,271.25 350.8,269 C351.35,266.75 351.98,264.33 352.6,262.5 C353.22,260.67 353.93,259.15 354.5,258 C355.07,256.85 355.48,256.15 356,255.6 C356.52,255.05 357.07,254.72 357.6,254.7 C358.13,254.68 358.7,254.95 359.2,255.5 C359.7,256.05 360.13,256.83 360.6,258 C361.07,259.17 361.53,260.5 362,262.5 C362.47,264.5 362.93,267.58 363.4,270 C363.87,272.42 364.33,274.67 364.8,277 C365.27,279.33 365.73,281.5 366.2,284 C366.67,286.5 367.13,289.33 367.6,292 C368.07,294.67 368.5,297.17 369,300 C369.5,302.83 370.08,306 370.6,309 C371.12,312 371.6,315.17 372.1,318 C372.6,320.83 373.07,323.5 373.6,326 C374.13,328.5 374.7,330.92 375.3,333 C375.9,335.08 376.53,336.92 377.2,338.5 C377.87,340.08 378.58,341.37 379.3,342.5 C380.02,343.63 380.72,344.52 381.5,345.3 C382.28,346.08 383.17,346.75 384,347.2 C384.83,347.65 386.08,347.87 386.5,348 L386.5,348.4 L313,348.4 Z" fill="#36268c" stroke="none"/>
<path d="M313,348.4 C313.42,348.27 314.78,347.95 315.5,347.6 C316.22,347.25 316.72,346.58 317.3,346.3 C317.88,346.02 318.22,346 319,345.9 C319.78,345.8 320.83,345.73 322,345.7 C323.17,345.67 324.67,345.72 326,345.7 C327.33,345.68 328.83,345.68 330,345.6 C331.17,345.52 332.1,345.5 333,345.2 C333.9,344.9 334.68,344.67 335.4,343.8 C336.12,342.93 336.73,341.27 337.3,340 C337.87,338.73 338.35,337.48 338.8,336.2 C339.25,334.92 339.67,333.42 340,332.3 C340.33,331.18 340.38,330.55 340.8,329.5 C341.22,328.45 341.97,327.08 342.5,326 C343.03,324.92 343.55,324.33 344,323 C344.45,321.67 344.87,320 345.2,318 C345.53,316 345.77,313.5 346,311 C346.23,308.5 346.37,305.67 346.6,303 C346.83,300.33 347.13,298 347.4,295 C347.67,292 347.88,288.17 348.2,285 C348.52,281.83 348.87,278.67 349.3,276 C349.73,273.33 350.25,271.25 350.8,269 C351.35,266.75 351.98,264.33 352.6,262.5 C353.22,260.67 353.93,259.15 354.5,258 C355.07,256.85 355.48,256.15 356,255.6 C356.52,255.05 357.07,254.72 357.6,254.7 C358.13,254.68 358.7,254.95 359.2,255.5 C359.7,256.05 360.13,256.83 360.6,258 C361.07,259.17 361.53,260.5 362,262.5 C362.47,264.5 362.93,267.58 363.4,270 C363.87,272.42 364.33,274.67 364.8,277 C365.27,279.33 365.73,281.5 366.2,284 C366.67,286.5 367.13,289.33 367.6,292 C368.07,294.67 368.5,297.17 369,300 C369.5,302.83 370.08,306 370.6,309 C371.12,312 371.6,315.17 372.1,318 C372.6,320.83 373.07,323.5 373.6,326 C374.13,328.5 374.7,330.92 375.3,333 C375.9,335.08 376.53,336.92 377.2,338.5 C377.87,340.08 378.58,341.37 379.3,342.5 C380.02,343.63 380.72,344.52 381.5,345.3 C382.28,346.08 383.17,346.75 384,347.2 C384.83,347.65 386.08,347.87 386.5,348" fill="none" stroke="#1c1a30" stroke-width="1" stroke-linejoin="round"/>
<line x1="312.4" y1="348.4" x2="390.2" y2="348.4" stroke="#1c1a30" stroke-width="1"/>
<rect x="312.4" y="210.2" width="77.8" height="138.2" fill="none" stroke="#111" stroke-width="1.3"/>
<path d="M407.5,310.4 C408,310.3 409.63,310.17 410.5,309.8 C411.37,309.43 412.03,308.87 412.7,308.2 C413.37,307.53 413.95,306.63 414.5,305.8 C415.05,304.97 415.48,304.17 416,303.2 C416.52,302.23 417.05,302.2 417.6,300 C418.15,297.8 418.75,293.33 419.3,290 C419.85,286.67 420.35,283.33 420.9,280 C421.45,276.67 422.05,273.33 422.6,270 C423.15,266.67 423.63,263.33 424.2,260 C424.77,256.67 425.4,253.33 426,250 C426.6,246.67 427.2,243 427.8,240 C428.4,237 429.02,234.5 429.6,232 C430.18,229.5 430.73,227.17 431.3,225 C431.87,222.83 432.42,220.58 433,219 C433.58,217.42 434.23,215.5 434.8,215.5 C435.37,215.5 435.97,217.25 436.4,219 C436.83,220.75 437.1,223.5 437.4,226 C437.7,228.5 437.9,231.5 438.2,234 C438.5,236.5 438.87,238.67 439.2,241 C439.53,243.33 439.73,245.17 440.2,248 C440.67,250.83 441.2,254 442,258 C442.8,262 443.92,267.33 445,272 C446.08,276.67 447.33,281.67 448.5,286 C449.67,290.33 450.75,294.67 452,298 C453.25,301.33 454.67,304.07 456,306 C457.33,307.93 458.83,308.87 460,309.6 C461.17,310.33 462.5,310.27 463,310.4 L463,310.4 L407.5,310.4 Z" fill="#8585c2" stroke="none"/>
<path d="M407.5,310.4 C408,310.3 409.63,310.17 410.5,309.8 C411.37,309.43 412.03,308.87 412.7,308.2 C413.37,307.53 413.95,306.63 414.5,305.8 C415.05,304.97 415.48,304.17 416,303.2 C416.52,302.23 417.05,302.2 417.6,300 C418.15,297.8 418.75,293.33 419.3,290 C419.85,286.67 420.35,283.33 420.9,280 C421.45,276.67 422.05,273.33 422.6,270 C423.15,266.67 423.63,263.33 424.2,260 C424.77,256.67 425.4,253.33 426,250 C426.6,246.67 427.2,243 427.8,240 C428.4,237 429.02,234.5 429.6,232 C430.18,229.5 430.73,227.17 431.3,225 C431.87,222.83 432.42,220.58 433,219 C433.58,217.42 434.23,215.5 434.8,215.5 C435.37,215.5 435.97,217.25 436.4,219 C436.83,220.75 437.1,223.5 437.4,226 C437.7,228.5 437.9,231.5 438.2,234 C438.5,236.5 438.87,238.67 439.2,241 C439.53,243.33 439.73,245.17 440.2,248 C440.67,250.83 441.2,254 442,258 C442.8,262 443.92,267.33 445,272 C446.08,276.67 447.33,281.67 448.5,286 C449.67,290.33 450.75,294.67 452,298 C453.25,301.33 454.67,304.07 456,306 C457.33,307.93 458.83,308.87 460,309.6 C461.17,310.33 462.5,310.27 463,310.4" fill="none" stroke="#1c1a30" stroke-width="1" stroke-linejoin="round"/>
<line x1="405.2" y1="310.4" x2="483.2" y2="310.4" stroke="#1c1a30" stroke-width="1"/>
<path d="M408,323.1 C408.5,323.02 410.17,323.02 411,322.6 C411.83,322.18 412.42,321.37 413,320.6 C413.58,319.83 413.92,319.1 414.5,318 C415.08,316.9 415.88,315.33 416.5,314 C417.12,312.67 417.75,311.5 418.2,310 C418.65,308.5 418.9,306.67 419.2,305 C419.5,303.33 419.67,302.5 420,300 C420.33,297.5 420.77,293.33 421.2,290 C421.63,286.67 422.17,283.33 422.6,280 C423.03,276.67 423.38,273.67 423.8,270 C424.22,266.33 424.63,262 425.1,258 C425.57,254 426.1,249.58 426.6,246 C427.1,242.42 427.57,238.92 428.1,236.5 C428.63,234.08 429.32,232.72 429.8,231.5 C430.28,230.28 430.58,229.72 431,229.2 C431.42,228.68 431.83,228.23 432.3,228.4 C432.77,228.57 433.4,229.1 433.8,230.2 C434.2,231.3 434.42,232.87 434.7,235 C434.98,237.13 435.18,240.17 435.5,243 C435.82,245.83 436.18,248.83 436.6,252 C437.02,255.17 437.35,258 438,262 C438.65,266 439.5,271.33 440.5,276 C441.5,280.67 442.75,285.5 444,290 C445.25,294.5 446.67,299.17 448,303 C449.33,306.83 450.67,310.2 452,313 C453.33,315.8 454.67,318.12 456,319.8 C457.33,321.48 459.33,322.55 460,323.1 L460,323.1 L408,323.1 Z" fill="#c2c2e4" stroke="none"/>
<path d="M408,323.1 C408.5,323.02 410.17,323.02 411,322.6 C411.83,322.18 412.42,321.37 413,320.6 C413.58,319.83 413.92,319.1 414.5,318 C415.08,316.9 415.88,315.33 416.5,314 C417.12,312.67 417.75,311.5 418.2,310 C418.65,308.5 418.9,306.67 419.2,305 C419.5,303.33 419.67,302.5 420,300 C420.33,297.5 420.77,293.33 421.2,290 C421.63,286.67 422.17,283.33 422.6,280 C423.03,276.67 423.38,273.67 423.8,270 C424.22,266.33 424.63,262 425.1,258 C425.57,254 426.1,249.58 426.6,246 C427.1,242.42 427.57,238.92 428.1,236.5 C428.63,234.08 429.32,232.72 429.8,231.5 C430.28,230.28 430.58,229.72 431,229.2 C431.42,228.68 431.83,228.23 432.3,228.4 C432.77,228.57 433.4,229.1 433.8,230.2 C434.2,231.3 434.42,232.87 434.7,235 C434.98,237.13 435.18,240.17 435.5,243 C435.82,245.83 436.18,248.83 436.6,252 C437.02,255.17 437.35,258 438,262 C438.65,266 439.5,271.33 440.5,276 C441.5,280.67 442.75,285.5 444,290 C445.25,294.5 446.67,299.17 448,303 C449.33,306.83 450.67,310.2 452,313 C453.33,315.8 454.67,318.12 456,319.8 C457.33,321.48 459.33,322.55 460,323.1" fill="none" stroke="#1c1a30" stroke-width="1" stroke-linejoin="round"/>
<line x1="405.2" y1="323.1" x2="483.2" y2="323.1" stroke="#1c1a30" stroke-width="1"/>
<path d="M407,335.8 C407.67,335.77 409.83,335.77 411,335.6 C412.17,335.43 413.17,335.2 414,334.8 C414.83,334.4 415.33,333.53 416,333.2 C416.67,332.87 417.33,332.77 418,332.8 C418.67,332.83 419.33,333.62 420,333.4 C420.67,333.18 421.17,332.73 422,331.5 C422.83,330.27 423.83,328.92 425,326 C426.17,323.08 427.67,318.67 429,314 C430.33,309.33 431.75,303.33 433,298 C434.25,292.67 435.58,286.67 436.5,282 C437.42,277.33 437.92,273.33 438.5,270 C439.08,266.67 439.67,264.5 440,262 C440.33,259.5 440.3,257.17 440.5,255 C440.7,252.83 440.9,250.83 441.2,249 C441.5,247.17 441.92,245.25 442.3,244 C442.68,242.75 443.08,242.08 443.5,241.5 C443.92,240.92 444.3,240.55 444.8,240.5 C445.3,240.45 445.92,240.97 446.5,241.2 C447.08,241.43 447.67,241.6 448.3,241.9 C448.93,242.2 449.73,242.52 450.3,243 C450.87,243.48 451.28,243.97 451.7,244.8 C452.12,245.63 452.42,246.8 452.8,248 C453.18,249.2 453.6,250.5 454,252 C454.4,253.5 454.78,255.33 455.2,257 C455.62,258.67 456.1,260.33 456.5,262 C456.9,263.67 457.25,265.33 457.6,267 C457.95,268.67 458.27,270.33 458.6,272 C458.93,273.67 459.27,275.33 459.6,277 C459.93,278.67 460.23,280 460.6,282 C460.97,284 461.35,286.5 461.8,289 C462.25,291.5 462.77,294.33 463.3,297 C463.83,299.67 464.38,302.33 465,305 C465.62,307.67 466.3,310.5 467,313 C467.7,315.5 468.45,317.83 469.2,320 C469.95,322.17 470.7,324.25 471.5,326 C472.3,327.75 473.17,329.25 474,330.5 C474.83,331.75 475.75,332.7 476.5,333.5 C477.25,334.3 477.92,334.92 478.5,335.3 C479.08,335.68 479.75,335.72 480,335.8 L480,335.8 L407,335.8 Z" fill="#f6e52a" stroke="none"/>
<path d="M407,335.8 C407.67,335.77 409.83,335.77 411,335.6 C412.17,335.43 413.17,335.2 414,334.8 C414.83,334.4 415.33,333.53 416,333.2 C416.67,332.87 417.33,332.77 418,332.8 C418.67,332.83 419.33,333.62 420,333.4 C420.67,333.18 421.17,332.73 422,331.5 C422.83,330.27 423.83,328.92 425,326 C426.17,323.08 427.67,318.67 429,314 C430.33,309.33 431.75,303.33 433,298 C434.25,292.67 435.58,286.67 436.5,282 C437.42,277.33 437.92,273.33 438.5,270 C439.08,266.67 439.67,264.5 440,262 C440.33,259.5 440.3,257.17 440.5,255 C440.7,252.83 440.9,250.83 441.2,249 C441.5,247.17 441.92,245.25 442.3,244 C442.68,242.75 443.08,242.08 443.5,241.5 C443.92,240.92 444.3,240.55 444.8,240.5 C445.3,240.45 445.92,240.97 446.5,241.2 C447.08,241.43 447.67,241.6 448.3,241.9 C448.93,242.2 449.73,242.52 450.3,243 C450.87,243.48 451.28,243.97 451.7,244.8 C452.12,245.63 452.42,246.8 452.8,248 C453.18,249.2 453.6,250.5 454,252 C454.4,253.5 454.78,255.33 455.2,257 C455.62,258.67 456.1,260.33 456.5,262 C456.9,263.67 457.25,265.33 457.6,267 C457.95,268.67 458.27,270.33 458.6,272 C458.93,273.67 459.27,275.33 459.6,277 C459.93,278.67 460.23,280 460.6,282 C460.97,284 461.35,286.5 461.8,289 C462.25,291.5 462.77,294.33 463.3,297 C463.83,299.67 464.38,302.33 465,305 C465.62,307.67 466.3,310.5 467,313 C467.7,315.5 468.45,317.83 469.2,320 C469.95,322.17 470.7,324.25 471.5,326 C472.3,327.75 473.17,329.25 474,330.5 C474.83,331.75 475.75,332.7 476.5,333.5 C477.25,334.3 477.92,334.92 478.5,335.3 C479.08,335.68 479.75,335.72 480,335.8" fill="none" stroke="#1c1a30" stroke-width="1" stroke-linejoin="round"/>
<line x1="405.2" y1="335.8" x2="483.2" y2="335.8" stroke="#1c1a30" stroke-width="1"/>
<path d="M406.5,348.4 C406.83,348.35 407.83,348.23 408.5,348.1 C409.17,347.97 409.87,347.85 410.5,347.6 C411.13,347.35 411.78,347.03 412.3,346.6 C412.82,346.17 413.07,345.77 413.6,345 C414.13,344.23 414.88,343.08 415.5,342 C416.12,340.92 416.7,339.75 417.3,338.5 C417.9,337.25 418.52,336.25 419.1,334.5 C419.68,332.75 420.27,330.42 420.8,328 C421.33,325.58 421.8,323 422.3,320 C422.8,317 423.28,313.33 423.8,310 C424.32,306.67 424.92,303.17 425.4,300 C425.88,296.83 426.3,293.67 426.7,291 C427.1,288.33 427.38,286.33 427.8,284 C428.22,281.67 428.7,279.5 429.2,277 C429.7,274.5 430.28,271.42 430.8,269 C431.32,266.58 431.8,264.42 432.3,262.5 C432.8,260.58 433.3,258.87 433.8,257.5 C434.3,256.13 434.82,254.97 435.3,254.3 C435.78,253.63 436.27,253.42 436.7,253.5 C437.13,253.58 437.52,254.12 437.9,254.8 C438.28,255.48 438.65,256.53 439,257.6 C439.35,258.67 439.67,260.2 440,261.2 C440.33,262.2 440.6,262.98 441,263.6 C441.4,264.22 441.97,264.3 442.4,264.9 C442.83,265.5 443.22,266.1 443.6,267.2 C443.98,268.3 444.35,270.03 444.7,271.5 C445.05,272.97 445.37,274.42 445.7,276 C446.03,277.58 446.35,279.25 446.7,281 C447.05,282.75 447.38,284.5 447.8,286.5 C448.22,288.5 448.7,290.75 449.2,293 C449.7,295.25 450.28,297.83 450.8,300 C451.32,302.17 451.83,304.17 452.3,306 C452.77,307.83 453.12,309.17 453.6,311 C454.08,312.83 454.63,315 455.2,317 C455.77,319 456.4,321 457,323 C457.6,325 458.18,327.08 458.8,329 C459.42,330.92 460.03,332.87 460.7,334.5 C461.37,336.13 462.08,337.55 462.8,338.8 C463.52,340.05 464.2,341.03 465,342 C465.8,342.97 466.73,343.87 467.6,344.6 C468.47,345.33 469.3,345.9 470.2,346.4 C471.1,346.9 472.03,347.3 473,347.6 C473.97,347.9 475.5,348.1 476,348.2 L476,348.4 L406.5,348.4 Z" fill="#36268c" stroke="none"/>
<path d="M406.5,348.4 C406.83,348.35 407.83,348.23 408.5,348.1 C409.17,347.97 409.87,347.85 410.5,347.6 C411.13,347.35 411.78,347.03 412.3,346.6 C412.82,346.17 413.07,345.77 413.6,345 C414.13,344.23 414.88,343.08 415.5,342 C416.12,340.92 416.7,339.75 417.3,338.5 C417.9,337.25 418.52,336.25 419.1,334.5 C419.68,332.75 420.27,330.42 420.8,328 C421.33,325.58 421.8,323 422.3,320 C422.8,317 423.28,313.33 423.8,310 C424.32,306.67 424.92,303.17 425.4,300 C425.88,296.83 426.3,293.67 426.7,291 C427.1,288.33 427.38,286.33 427.8,284 C428.22,281.67 428.7,279.5 429.2,277 C429.7,274.5 430.28,271.42 430.8,269 C431.32,266.58 431.8,264.42 432.3,262.5 C432.8,260.58 433.3,258.87 433.8,257.5 C434.3,256.13 434.82,254.97 435.3,254.3 C435.78,253.63 436.27,253.42 436.7,253.5 C437.13,253.58 437.52,254.12 437.9,254.8 C438.28,255.48 438.65,256.53 439,257.6 C439.35,258.67 439.67,260.2 440,261.2 C440.33,262.2 440.6,262.98 441,263.6 C441.4,264.22 441.97,264.3 442.4,264.9 C442.83,265.5 443.22,266.1 443.6,267.2 C443.98,268.3 444.35,270.03 444.7,271.5 C445.05,272.97 445.37,274.42 445.7,276 C446.03,277.58 446.35,279.25 446.7,281 C447.05,282.75 447.38,284.5 447.8,286.5 C448.22,288.5 448.7,290.75 449.2,293 C449.7,295.25 450.28,297.83 450.8,300 C451.32,302.17 451.83,304.17 452.3,306 C452.77,307.83 453.12,309.17 453.6,311 C454.08,312.83 454.63,315 455.2,317 C455.77,319 456.4,321 457,323 C457.6,325 458.18,327.08 458.8,329 C459.42,330.92 460.03,332.87 460.7,334.5 C461.37,336.13 462.08,337.55 462.8,338.8 C463.52,340.05 464.2,341.03 465,342 C465.8,342.97 466.73,343.87 467.6,344.6 C468.47,345.33 469.3,345.9 470.2,346.4 C471.1,346.9 472.03,347.3 473,347.6 C473.97,347.9 475.5,348.1 476,348.2" fill="none" stroke="#1c1a30" stroke-width="1" stroke-linejoin="round"/>
<line x1="405.2" y1="348.4" x2="483.2" y2="348.4" stroke="#1c1a30" stroke-width="1"/>
<rect x="405.2" y="210.2" width="78" height="138.2" fill="none" stroke="#111" stroke-width="1.3"/>
<text x="486" y="310" font-size="6.4" text-anchor="start" font-weight="normal" fill="#333" textLength="21.7" lengthAdjust="spacingAndGlyphs">Control</text>
<text x="486" y="322.9" font-size="6.4" text-anchor="start" font-weight="normal" fill="#333" textLength="10.8" lengthAdjust="spacingAndGlyphs">Ibru</text>
<text x="486" y="335.5" font-size="6.4" text-anchor="start" font-weight="normal" fill="#333" textLength="25.6" lengthAdjust="spacingAndGlyphs">IgM-stim</text>
<text x="486" y="348.4" font-size="6.4" text-anchor="start" font-weight="normal" fill="#333" textLength="25.6" lengthAdjust="spacingAndGlyphs">Ibru-stim</text>
<line x1="313.84" y1="349" x2="313.84" y2="351.6" stroke="#000" stroke-width="1.1"/>
<line x1="315.25" y1="349" x2="315.25" y2="351.6" stroke="#000" stroke-width="1.1"/>
<line x1="316.46" y1="349" x2="316.46" y2="351.6" stroke="#000" stroke-width="1.1"/>
<line x1="317.54" y1="349" x2="317.54" y2="351.6" stroke="#000" stroke-width="1.1"/>
<line x1="318.5" y1="349" x2="318.5" y2="352.4" stroke="#000" stroke-width="1.1"/>
<line x1="325.09" y1="349" x2="325.09" y2="351.6" stroke="#000" stroke-width="1.1"/>
<line x1="328.95" y1="349" x2="328.95" y2="351.6" stroke="#000" stroke-width="1.1"/>
<line x1="331.69" y1="349" x2="331.69" y2="351.6" stroke="#000" stroke-width="1.1"/>
<line x1="333.81" y1="349" x2="333.81" y2="351.6" stroke="#000" stroke-width="1.1"/>
<line x1="335.54" y1="349" x2="335.54" y2="351.6" stroke="#000" stroke-width="1.1"/>
<line x1="337.01" y1="349" x2="337.01" y2="351.6" stroke="#000" stroke-width="1.1"/>
<line x1="338.28" y1="349" x2="338.28" y2="351.6" stroke="#000" stroke-width="1.1"/>
<line x1="339.4" y1="349" x2="339.4" y2="351.6" stroke="#000" stroke-width="1.1"/>
<line x1="340.4" y1="349" x2="340.4" y2="352.4" stroke="#000" stroke-width="1.1"/>
<line x1="348.2" y1="349" x2="348.2" y2="351.6" stroke="#000" stroke-width="1.1"/>
<line x1="352.76" y1="349" x2="352.76" y2="351.6" stroke="#000" stroke-width="1.1"/>
<line x1="355.99" y1="349" x2="355.99" y2="351.6" stroke="#000" stroke-width="1.1"/>
<line x1="358.5" y1="349" x2="358.5" y2="351.6" stroke="#000" stroke-width="1.1"/>
<line x1="360.55" y1="349" x2="360.55" y2="351.6" stroke="#000" stroke-width="1.1"/>
<line x1="362.29" y1="349" x2="362.29" y2="351.6" stroke="#000" stroke-width="1.1"/>
<line x1="363.79" y1="349" x2="363.79" y2="351.6" stroke="#000" stroke-width="1.1"/>
<line x1="365.11" y1="349" x2="365.11" y2="351.6" stroke="#000" stroke-width="1.1"/>
<line x1="366.3" y1="349" x2="366.3" y2="352.4" stroke="#000" stroke-width="1.1"/>
<line x1="373.31" y1="349" x2="373.31" y2="351.6" stroke="#000" stroke-width="1.1"/>
<line x1="377.42" y1="349" x2="377.42" y2="351.6" stroke="#000" stroke-width="1.1"/>
<line x1="380.33" y1="349" x2="380.33" y2="351.6" stroke="#000" stroke-width="1.1"/>
<line x1="382.59" y1="349" x2="382.59" y2="351.6" stroke="#000" stroke-width="1.1"/>
<line x1="384.43" y1="349" x2="384.43" y2="351.6" stroke="#000" stroke-width="1.1"/>
<line x1="385.99" y1="349" x2="385.99" y2="351.6" stroke="#000" stroke-width="1.1"/>
<line x1="387.34" y1="349" x2="387.34" y2="351.6" stroke="#000" stroke-width="1.1"/>
<line x1="388.53" y1="349" x2="388.53" y2="351.6" stroke="#000" stroke-width="1.1"/>
<line x1="389.6" y1="349" x2="389.6" y2="352.4" stroke="#111" stroke-width="1.1"/>
<text x="318.5" y="361.4" font-size="7.2" text-anchor="middle" fill="#222" textLength="8.6" lengthAdjust="spacingAndGlyphs">10<tspan font-size="4.32" dy="-3">1</tspan></text>
<text x="340.4" y="361.4" font-size="7.2" text-anchor="middle" fill="#222" textLength="8.6" lengthAdjust="spacingAndGlyphs">10<tspan font-size="4.32" dy="-3">2</tspan></text>
<text x="366.3" y="361.4" font-size="7.2" text-anchor="middle" fill="#222" textLength="8.6" lengthAdjust="spacingAndGlyphs">10<tspan font-size="4.32" dy="-3">3</tspan></text>
<text x="389.6" y="361.4" font-size="7.2" text-anchor="middle" fill="#222" textLength="8.6" lengthAdjust="spacingAndGlyphs">10<tspan font-size="4.32" dy="-3">4</tspan></text>
<line x1="407" y1="349" x2="407" y2="351.2" stroke="#111" stroke-width="0.8"/>
<line x1="409" y1="349" x2="409" y2="351.2" stroke="#111" stroke-width="0.8"/>
<line x1="411" y1="349" x2="411" y2="351.2" stroke="#111" stroke-width="0.8"/>
<line x1="413" y1="349" x2="413" y2="351.2" stroke="#111" stroke-width="0.8"/>
<line x1="415" y1="349" x2="415" y2="351.2" stroke="#111" stroke-width="0.8"/>
<line x1="417" y1="349" x2="417" y2="351.2" stroke="#111" stroke-width="0.8"/>
<line x1="419" y1="349" x2="419" y2="351.2" stroke="#111" stroke-width="0.8"/>
<line x1="421" y1="349" x2="421" y2="351.2" stroke="#111" stroke-width="0.8"/>
<line x1="423" y1="349" x2="423" y2="351.2" stroke="#111" stroke-width="0.8"/>
<line x1="425" y1="349" x2="425" y2="351.2" stroke="#111" stroke-width="0.8"/>
<line x1="427" y1="349" x2="427" y2="351.2" stroke="#111" stroke-width="0.8"/>
<line x1="429" y1="349" x2="429" y2="351.2" stroke="#111" stroke-width="0.8"/>
<line x1="431" y1="349" x2="431" y2="351.2" stroke="#111" stroke-width="0.8"/>
<line x1="430.1" y1="349" x2="430.1" y2="352.4" stroke="#000" stroke-width="1.1"/>
<line x1="438.44" y1="349" x2="438.44" y2="351.6" stroke="#000" stroke-width="1.1"/>
<line x1="443.32" y1="349" x2="443.32" y2="351.6" stroke="#000" stroke-width="1.1"/>
<line x1="446.78" y1="349" x2="446.78" y2="351.6" stroke="#000" stroke-width="1.1"/>
<line x1="449.46" y1="349" x2="449.46" y2="351.6" stroke="#000" stroke-width="1.1"/>
<line x1="451.65" y1="349" x2="451.65" y2="351.6" stroke="#000" stroke-width="1.1"/>
<line x1="453.51" y1="349" x2="453.51" y2="351.6" stroke="#000" stroke-width="1.1"/>
<line x1="455.12" y1="349" x2="455.12" y2="351.6" stroke="#000" stroke-width="1.1"/>
<line x1="456.53" y1="349" x2="456.53" y2="351.6" stroke="#000" stroke-width="1.1"/>
<line x1="457.8" y1="349" x2="457.8" y2="352.4" stroke="#000" stroke-width="1.1"/>
<line x1="466.14" y1="349" x2="466.14" y2="351.6" stroke="#000" stroke-width="1.1"/>
<line x1="471.02" y1="349" x2="471.02" y2="351.6" stroke="#000" stroke-width="1.1"/>
<line x1="474.48" y1="349" x2="474.48" y2="351.6" stroke="#000" stroke-width="1.1"/>
<line x1="477.16" y1="349" x2="477.16" y2="351.6" stroke="#000" stroke-width="1.1"/>
<line x1="479.35" y1="349" x2="479.35" y2="351.6" stroke="#000" stroke-width="1.1"/>
<line x1="481.21" y1="349" x2="481.21" y2="351.6" stroke="#000" stroke-width="1.1"/>
<line x1="482.82" y1="349" x2="482.82" y2="351.6" stroke="#000" stroke-width="1.1"/>
<text x="411.6" y="361.4" font-size="7.2" text-anchor="middle" fill="#222" textLength="11.1" lengthAdjust="spacingAndGlyphs">-10<tspan font-size="4.32" dy="-3">2</tspan></text>
<text x="430.1" y="361.4" font-size="7.2" text-anchor="middle" fill="#222" textLength="8.6" lengthAdjust="spacingAndGlyphs">10<tspan font-size="4.32" dy="-3">2</tspan></text>
<text x="457.8" y="361.4" font-size="7.2" text-anchor="middle" fill="#222" textLength="8.6" lengthAdjust="spacingAndGlyphs">10<tspan font-size="4.32" dy="-3">3</tspan></text>
<text x="351.5" y="372.9" font-size="8.2" text-anchor="middle" font-weight="normal" fill="#222" textLength="33" lengthAdjust="spacingAndGlyphs">pBTK-Y223</text>
<text x="443.8" y="372.9" font-size="8.2" text-anchor="middle" font-weight="normal" fill="#222" textLength="40" lengthAdjust="spacingAndGlyphs">pPLC&#947;2-Y759</text>
<text x="307.8" y="279.6" font-size="8.4" text-anchor="middle" font-weight="normal" fill="#222" textLength="21.3" lengthAdjust="spacingAndGlyphs" transform="rotate(-90 307.8 279.6)">Counts</text>
<defs><linearGradient id="gD" x1="0" y1="0" x2="1" y2="0"><stop offset="0" stop-color="#acacda"/><stop offset="0.08" stop-color="#7c74be"/><stop offset="0.2" stop-color="#3c2c8c"/><stop offset="0.38" stop-color="#2c2072"/><stop offset="0.46" stop-color="#0e0a26"/><stop offset="0.5" stop-color="#000000"/><stop offset="0.58" stop-color="#5a5206"/><stop offset="0.7" stop-color="#f0e020"/><stop offset="0.86" stop-color="#f8ec34"/><stop offset="1" stop-color="#f8f0c8"/></linearGradient></defs>
<rect x="316.2" y="382" width="70.4" height="9.2" fill="url(#gD)" stroke="#333" stroke-width="0.5"/>
<rect x="408.4" y="382" width="70.9" height="9.2" fill="url(#gD)" stroke="#333" stroke-width="0.5"/>
<line x1="316.2" y1="391.2" x2="316.2" y2="392.8" stroke="#333" stroke-width="0.5"/>
<line x1="351.4" y1="391.2" x2="351.4" y2="392.8" stroke="#333" stroke-width="0.5"/>
<line x1="386.6" y1="391.2" x2="386.6" y2="392.8" stroke="#333" stroke-width="0.5"/>
<line x1="408.4" y1="391.2" x2="408.4" y2="392.8" stroke="#333" stroke-width="0.5"/>
<line x1="443.9" y1="391.2" x2="443.9" y2="392.8" stroke="#333" stroke-width="0.5"/>
<line x1="479.3" y1="391.2" x2="479.3" y2="392.8" stroke="#333" stroke-width="0.5"/>
<text x="317.3" y="403.4" font-size="7" text-anchor="middle" font-weight="normal" fill="#222" textLength="14" lengthAdjust="spacingAndGlyphs">2000</text>
<text x="352" y="403.4" font-size="7" text-anchor="middle" font-weight="normal" fill="#222" textLength="17.5" lengthAdjust="spacingAndGlyphs">14000</text>
<text x="410" y="403.4" font-size="7" text-anchor="middle" font-weight="normal" fill="#222" textLength="10.5" lengthAdjust="spacingAndGlyphs">100</text>
<text x="444" y="403.4" font-size="7" text-anchor="middle" font-weight="normal" fill="#222" textLength="10.5" lengthAdjust="spacingAndGlyphs">600</text>
<rect x="0.75" y="0.75" width="518.5" height="494.5" fill="none" stroke="#000" stroke-width="1.6"/>
</svg></body></html>
